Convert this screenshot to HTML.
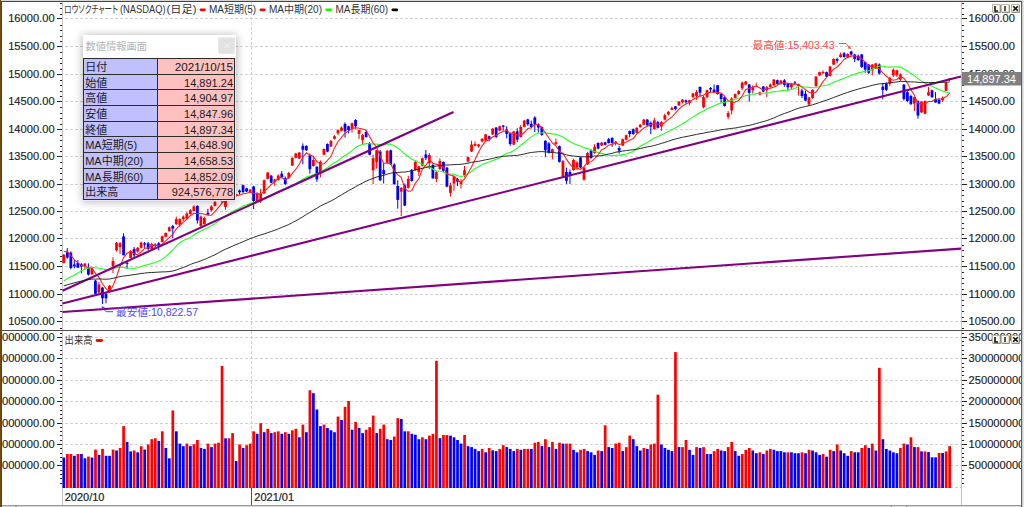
<!DOCTYPE html>
<html><head><meta charset="utf-8"><title>chart</title>
<style>html,body{margin:0;padding:0;background:#fff;overflow:hidden}#w{position:relative;width:1024px;height:507px;overflow:hidden}</style>
</head><body><div id="w">
<svg width="1024" height="507" viewBox="0 0 1024 507" style="position:absolute;left:0;top:0"><rect x="0" y="0" width="1024" height="507" fill="#ffffff"/><path d="M63,18.5H961 M63,46.5H961 M63,74.5H961 M63,101.5H961 M63,129.5H961 M63,156.5H961 M63,184.5H961 M63,211.5H961 M63,238.5H961 M63,266.5H961 M63,294.5H961 M63,321.5H961 M63,337.5H961 M63,358.5H961 M63,380.5H961 M63,401.5H961 M63,423.5H961 M63,444.5H961 M63,465.5H961 M63,487.5H961" stroke="#d0d0d0" stroke-width="1" stroke-dasharray="3,2" stroke-dashoffset="3" fill="none"/><path d="M251.5,2V329M251.5,331V488" stroke="#d0d0d0" stroke-width="1" stroke-dasharray="3,2" fill="none"/><path d="M62.5,2V505M961.5,2V505" stroke="#c0c0c0" stroke-width="1"/><line x1="63.80" y1="254.0" x2="63.80" y2="263.5" stroke="#ff0000" stroke-width="1"/><rect x="62.40" y="254.7" width="2.8" height="8.2" fill="#ff0000"/><line x1="67.31" y1="248.1" x2="67.31" y2="258.8" stroke="#0000ff" stroke-width="1"/><rect x="65.91" y="252.2" width="2.8" height="5.4" fill="#0000ff"/><line x1="70.83" y1="251.3" x2="70.83" y2="269.3" stroke="#0000ff" stroke-width="1"/><rect x="69.43" y="252.8" width="2.8" height="15.2" fill="#0000ff"/><line x1="74.34" y1="259.8" x2="74.34" y2="268.3" stroke="#0000ff" stroke-width="1"/><rect x="72.94" y="264.5" width="2.8" height="1.9" fill="#0000ff"/><line x1="77.86" y1="260.1" x2="77.86" y2="268.0" stroke="#0000ff" stroke-width="1"/><rect x="76.46" y="263.0" width="2.8" height="4.7" fill="#0000ff"/><line x1="81.38" y1="263.0" x2="81.38" y2="273.4" stroke="#0000ff" stroke-width="1"/><rect x="79.97" y="264.2" width="2.8" height="2.2" fill="#0000ff"/><line x1="84.89" y1="263.0" x2="84.89" y2="269.9" stroke="#ff0000" stroke-width="1"/><rect x="83.49" y="263.6" width="2.8" height="2.2" fill="#ff0000"/><line x1="88.41" y1="263.3" x2="88.41" y2="275.6" stroke="#0000ff" stroke-width="1"/><rect x="87.00" y="268.3" width="2.8" height="6.3" fill="#0000ff"/><line x1="91.92" y1="268.0" x2="91.92" y2="275.0" stroke="#ff0000" stroke-width="1"/><rect x="90.52" y="268.6" width="2.8" height="5.7" fill="#ff0000"/><line x1="95.44" y1="280.0" x2="95.44" y2="294.5" stroke="#0000ff" stroke-width="1"/><rect x="94.03" y="280.6" width="2.8" height="13.3" fill="#0000ff"/><line x1="98.95" y1="281.9" x2="98.95" y2="293.9" stroke="#ff0000" stroke-width="1"/><rect x="97.55" y="284.4" width="2.8" height="8.2" fill="#ff0000"/><line x1="102.47" y1="287.0" x2="102.47" y2="304.0" stroke="#0000ff" stroke-width="1"/><rect x="101.06" y="287.6" width="2.8" height="10.7" fill="#0000ff"/><line x1="105.98" y1="292.0" x2="105.98" y2="303.3" stroke="#0000ff" stroke-width="1"/><rect x="104.58" y="293.9" width="2.8" height="4.4" fill="#0000ff"/><line x1="109.50" y1="285.0" x2="109.50" y2="292.0" stroke="#ff0000" stroke-width="1"/><rect x="108.09" y="285.7" width="2.8" height="5.6" fill="#ff0000"/><line x1="113.01" y1="257.3" x2="113.01" y2="273.0" stroke="#ff0000" stroke-width="1"/><rect x="111.61" y="261.0" width="2.8" height="5.1" fill="#ff0000"/><line x1="116.53" y1="242.0" x2="116.53" y2="251.6" stroke="#ff0000" stroke-width="1"/><rect x="115.12" y="242.7" width="2.8" height="7.6" fill="#ff0000"/><line x1="120.04" y1="242.0" x2="120.04" y2="254.0" stroke="#ff0000" stroke-width="1"/><rect x="118.64" y="243.3" width="2.8" height="3.8" fill="#ff0000"/><line x1="123.56" y1="233.2" x2="123.56" y2="255.3" stroke="#0000ff" stroke-width="1"/><rect x="122.16" y="236.4" width="2.8" height="18.9" fill="#0000ff"/><line x1="127.07" y1="260.3" x2="127.07" y2="268.9" stroke="#0000ff" stroke-width="1"/><rect x="125.67" y="262.8" width="2.8" height="1.0" fill="#0000ff"/><line x1="130.58" y1="250.3" x2="130.58" y2="258.5" stroke="#ff0000" stroke-width="1"/><rect x="129.18" y="250.9" width="2.8" height="7.0" fill="#ff0000"/><line x1="134.10" y1="247.0" x2="134.10" y2="258.0" stroke="#0000ff" stroke-width="1"/><rect x="132.70" y="249.0" width="2.8" height="6.3" fill="#0000ff"/><line x1="137.62" y1="247.1" x2="137.62" y2="252.8" stroke="#ff0000" stroke-width="1"/><rect x="136.22" y="247.8" width="2.8" height="3.8" fill="#ff0000"/><line x1="141.13" y1="241.5" x2="141.13" y2="248.4" stroke="#ff0000" stroke-width="1"/><rect x="139.73" y="242.7" width="2.8" height="5.1" fill="#ff0000"/><line x1="144.64" y1="242.0" x2="144.64" y2="247.8" stroke="#0000ff" stroke-width="1"/><rect x="143.24" y="243.3" width="2.8" height="1.3" fill="#0000ff"/><line x1="148.16" y1="242.0" x2="148.16" y2="250.3" stroke="#0000ff" stroke-width="1"/><rect x="146.76" y="243.3" width="2.8" height="5.7" fill="#0000ff"/><line x1="151.68" y1="242.7" x2="151.68" y2="249.7" stroke="#ff0000" stroke-width="1"/><rect x="150.28" y="244.0" width="2.8" height="5.0" fill="#ff0000"/><line x1="155.19" y1="243.3" x2="155.19" y2="249.0" stroke="#0000ff" stroke-width="1"/><rect x="153.79" y="244.6" width="2.8" height="1.0" fill="#0000ff"/><line x1="158.70" y1="242.0" x2="158.70" y2="250.3" stroke="#0000ff" stroke-width="1"/><rect x="157.30" y="243.3" width="2.8" height="2.6" fill="#0000ff"/><line x1="162.22" y1="235.6" x2="162.22" y2="242.5" stroke="#ff0000" stroke-width="1"/><rect x="160.82" y="236.2" width="2.8" height="5.7" fill="#ff0000"/><line x1="165.74" y1="232.4" x2="165.74" y2="237.4" stroke="#ff0000" stroke-width="1"/><rect x="164.34" y="233.0" width="2.8" height="3.8" fill="#ff0000"/><line x1="169.25" y1="226.5" x2="169.25" y2="231.8" stroke="#ff0000" stroke-width="1"/><rect x="167.85" y="227.3" width="2.8" height="3.8" fill="#ff0000"/><line x1="172.76" y1="224.8" x2="172.76" y2="238.1" stroke="#0000ff" stroke-width="1"/><rect x="171.36" y="226.0" width="2.8" height="2.6" fill="#0000ff"/><line x1="176.28" y1="216.6" x2="176.28" y2="224.8" stroke="#ff0000" stroke-width="1"/><rect x="174.88" y="219.1" width="2.8" height="5.1" fill="#ff0000"/><line x1="179.80" y1="218.5" x2="179.80" y2="226.7" stroke="#ff0000" stroke-width="1"/><rect x="178.40" y="219.1" width="2.8" height="5.7" fill="#ff0000"/><line x1="183.31" y1="215.4" x2="183.31" y2="221.0" stroke="#ff0000" stroke-width="1"/><rect x="181.91" y="216.6" width="2.8" height="2.5" fill="#ff0000"/><line x1="186.82" y1="212.2" x2="186.82" y2="219.1" stroke="#ff0000" stroke-width="1"/><rect x="185.42" y="213.5" width="2.8" height="5.0" fill="#ff0000"/><line x1="190.34" y1="209.0" x2="190.34" y2="214.7" stroke="#ff0000" stroke-width="1"/><rect x="188.94" y="210.3" width="2.8" height="3.8" fill="#ff0000"/><line x1="193.86" y1="205.3" x2="193.86" y2="211.6" stroke="#ff0000" stroke-width="1"/><rect x="192.46" y="206.5" width="2.8" height="4.4" fill="#ff0000"/><line x1="197.37" y1="205.3" x2="197.37" y2="223.6" stroke="#0000ff" stroke-width="1"/><rect x="195.97" y="205.9" width="2.8" height="14.5" fill="#0000ff"/><line x1="200.88" y1="215.4" x2="200.88" y2="226.7" stroke="#ff0000" stroke-width="1"/><rect x="199.48" y="216.6" width="2.8" height="9.5" fill="#ff0000"/><line x1="204.40" y1="216.6" x2="204.40" y2="224.8" stroke="#ff0000" stroke-width="1"/><rect x="203.00" y="217.9" width="2.8" height="6.3" fill="#ff0000"/><line x1="207.92" y1="208.8" x2="207.92" y2="214.7" stroke="#0000ff" stroke-width="1"/><rect x="206.52" y="212.8" width="2.8" height="1.9" fill="#0000ff"/><line x1="211.43" y1="205.3" x2="211.43" y2="211.6" stroke="#ff0000" stroke-width="1"/><rect x="210.03" y="206.5" width="2.8" height="3.8" fill="#ff0000"/><line x1="214.94" y1="200.8" x2="214.94" y2="206.5" stroke="#ff0000" stroke-width="1"/><rect x="213.54" y="202.1" width="2.8" height="3.8" fill="#ff0000"/><line x1="218.46" y1="194.5" x2="218.46" y2="198.0" stroke="#ff0000" stroke-width="1"/><rect x="217.06" y="195.7" width="2.8" height="1.0" fill="#ff0000"/><line x1="221.98" y1="192.0" x2="221.98" y2="203.0" stroke="#0000ff" stroke-width="1"/><rect x="220.58" y="193.8" width="2.8" height="3.2" fill="#0000ff"/><line x1="225.49" y1="197.0" x2="225.49" y2="209.8" stroke="#ff0000" stroke-width="1"/><rect x="224.09" y="197.7" width="2.8" height="9.2" fill="#ff0000"/><line x1="229.00" y1="193.0" x2="229.00" y2="199.0" stroke="#ff0000" stroke-width="1"/><rect x="227.60" y="194.1" width="2.8" height="3.6" fill="#ff0000"/><line x1="232.52" y1="193.0" x2="232.52" y2="197.5" stroke="#0000ff" stroke-width="1"/><rect x="231.12" y="193.9" width="2.8" height="2.2" fill="#0000ff"/><line x1="236.04" y1="193.9" x2="236.04" y2="196.5" stroke="#ff0000" stroke-width="1"/><rect x="234.64" y="194.3" width="2.8" height="1.0" fill="#ff0000"/><line x1="239.55" y1="189.5" x2="239.55" y2="194.5" stroke="#0000ff" stroke-width="1"/><rect x="238.15" y="190.6" width="2.8" height="1.7" fill="#0000ff"/><line x1="243.06" y1="184.6" x2="243.06" y2="192.8" stroke="#0000ff" stroke-width="1"/><rect x="241.66" y="185.2" width="2.8" height="6.9" fill="#0000ff"/><line x1="246.58" y1="187.8" x2="246.58" y2="192.1" stroke="#0000ff" stroke-width="1"/><rect x="245.18" y="188.4" width="2.8" height="3.1" fill="#0000ff"/><line x1="250.10" y1="189.0" x2="250.10" y2="193.0" stroke="#ff0000" stroke-width="1"/><rect x="248.70" y="189.6" width="2.8" height="2.5" fill="#ff0000"/><line x1="253.61" y1="185.8" x2="253.61" y2="209.2" stroke="#0000ff" stroke-width="1"/><rect x="252.21" y="186.5" width="2.8" height="14.5" fill="#0000ff"/><line x1="257.12" y1="192.1" x2="257.12" y2="202.2" stroke="#ff0000" stroke-width="1"/><rect x="255.72" y="193.4" width="2.8" height="7.6" fill="#ff0000"/><line x1="260.64" y1="189.0" x2="260.64" y2="202.9" stroke="#ff0000" stroke-width="1"/><rect x="259.24" y="194.0" width="2.8" height="7.6" fill="#ff0000"/><line x1="264.16" y1="179.5" x2="264.16" y2="194.0" stroke="#ff0000" stroke-width="1"/><rect x="262.76" y="180.2" width="2.8" height="13.2" fill="#ff0000"/><line x1="267.67" y1="171.9" x2="267.67" y2="179.5" stroke="#ff0000" stroke-width="1"/><rect x="266.27" y="172.6" width="2.8" height="6.3" fill="#ff0000"/><line x1="271.19" y1="175.0" x2="271.19" y2="183.3" stroke="#0000ff" stroke-width="1"/><rect x="269.79" y="175.7" width="2.8" height="7.0" fill="#0000ff"/><line x1="274.70" y1="178.9" x2="274.70" y2="185.8" stroke="#ff0000" stroke-width="1"/><rect x="273.30" y="179.5" width="2.8" height="2.5" fill="#ff0000"/><line x1="278.22" y1="174.3" x2="278.22" y2="180.6" stroke="#ff0000" stroke-width="1"/><rect x="276.82" y="175.6" width="2.8" height="4.4" fill="#ff0000"/><line x1="281.73" y1="171.1" x2="281.73" y2="178.1" stroke="#0000ff" stroke-width="1"/><rect x="280.33" y="173.7" width="2.8" height="3.7" fill="#0000ff"/><line x1="285.25" y1="176.5" x2="285.25" y2="185.0" stroke="#0000ff" stroke-width="1"/><rect x="283.85" y="178.0" width="2.8" height="6.0" fill="#0000ff"/><line x1="288.76" y1="171.8" x2="288.76" y2="178.7" stroke="#ff0000" stroke-width="1"/><rect x="287.36" y="173.0" width="2.8" height="5.0" fill="#ff0000"/><line x1="292.27" y1="157.3" x2="292.27" y2="166.1" stroke="#ff0000" stroke-width="1"/><rect x="290.88" y="157.9" width="2.8" height="7.6" fill="#ff0000"/><line x1="295.79" y1="152.8" x2="295.79" y2="158.5" stroke="#ff0000" stroke-width="1"/><rect x="294.39" y="153.5" width="2.8" height="4.4" fill="#ff0000"/><line x1="299.31" y1="152.0" x2="299.31" y2="159.1" stroke="#ff0000" stroke-width="1"/><rect x="297.91" y="152.6" width="2.8" height="5.9" fill="#ff0000"/><line x1="302.82" y1="143.4" x2="302.82" y2="164.2" stroke="#0000ff" stroke-width="1"/><rect x="301.42" y="145.9" width="2.8" height="3.8" fill="#0000ff"/><line x1="306.33" y1="145.3" x2="306.33" y2="151.0" stroke="#0000ff" stroke-width="1"/><rect x="304.94" y="145.9" width="2.8" height="4.4" fill="#0000ff"/><line x1="309.85" y1="153.5" x2="309.85" y2="173.7" stroke="#0000ff" stroke-width="1"/><rect x="308.45" y="155.4" width="2.8" height="13.8" fill="#0000ff"/><line x1="313.37" y1="156.0" x2="313.37" y2="166.7" stroke="#ff0000" stroke-width="1"/><rect x="311.97" y="160.0" width="2.8" height="6.0" fill="#ff0000"/><line x1="316.88" y1="166.0" x2="316.88" y2="181.9" stroke="#0000ff" stroke-width="1"/><rect x="315.48" y="166.7" width="2.8" height="12.6" fill="#0000ff"/><line x1="320.40" y1="160.4" x2="320.40" y2="177.4" stroke="#ff0000" stroke-width="1"/><rect x="319.00" y="161.7" width="2.8" height="11.3" fill="#ff0000"/><line x1="323.91" y1="148.4" x2="323.91" y2="155.4" stroke="#ff0000" stroke-width="1"/><rect x="322.51" y="149.0" width="2.8" height="5.7" fill="#ff0000"/><line x1="327.43" y1="143.4" x2="327.43" y2="152.2" stroke="#0000ff" stroke-width="1"/><rect x="326.03" y="144.0" width="2.8" height="7.6" fill="#0000ff"/><line x1="330.94" y1="140.2" x2="330.94" y2="147.1" stroke="#ff0000" stroke-width="1"/><rect x="329.54" y="140.8" width="2.8" height="5.7" fill="#ff0000"/><line x1="334.46" y1="135.2" x2="334.46" y2="139.6" stroke="#ff0000" stroke-width="1"/><rect x="333.06" y="136.2" width="2.8" height="2.7" fill="#ff0000"/><line x1="337.97" y1="129.5" x2="337.97" y2="135.1" stroke="#ff0000" stroke-width="1"/><rect x="336.57" y="130.1" width="2.8" height="3.2" fill="#ff0000"/><line x1="341.49" y1="126.3" x2="341.49" y2="131.4" stroke="#ff0000" stroke-width="1"/><rect x="340.09" y="127.6" width="2.8" height="3.1" fill="#ff0000"/><line x1="345.00" y1="122.5" x2="345.00" y2="137.7" stroke="#0000ff" stroke-width="1"/><rect x="343.60" y="123.8" width="2.8" height="7.6" fill="#0000ff"/><line x1="348.52" y1="125.7" x2="348.52" y2="133.3" stroke="#0000ff" stroke-width="1"/><rect x="347.12" y="126.3" width="2.8" height="3.8" fill="#0000ff"/><line x1="352.03" y1="122.5" x2="352.03" y2="132.6" stroke="#ff0000" stroke-width="1"/><rect x="350.63" y="123.2" width="2.8" height="5.6" fill="#ff0000"/><line x1="355.55" y1="119.1" x2="355.55" y2="128.8" stroke="#0000ff" stroke-width="1"/><rect x="354.15" y="120.0" width="2.8" height="6.3" fill="#0000ff"/><line x1="359.06" y1="129.5" x2="359.06" y2="138.9" stroke="#ff0000" stroke-width="1"/><rect x="357.66" y="130.1" width="2.8" height="3.8" fill="#ff0000"/><line x1="362.58" y1="133.9" x2="362.58" y2="144.0" stroke="#ff0000" stroke-width="1"/><rect x="361.18" y="135.1" width="2.8" height="5.1" fill="#ff0000"/><line x1="366.09" y1="130.1" x2="366.09" y2="137.7" stroke="#0000ff" stroke-width="1"/><rect x="364.69" y="132.0" width="2.8" height="5.0" fill="#0000ff"/><line x1="369.61" y1="142.1" x2="369.61" y2="155.3" stroke="#0000ff" stroke-width="1"/><rect x="368.21" y="143.4" width="2.8" height="11.3" fill="#0000ff"/><line x1="373.12" y1="154.7" x2="373.12" y2="184.0" stroke="#ff0000" stroke-width="1"/><rect x="371.72" y="158.2" width="2.8" height="12.1" fill="#ff0000"/><line x1="376.64" y1="149.7" x2="376.64" y2="168.6" stroke="#ff0000" stroke-width="1"/><rect x="375.24" y="150.3" width="2.8" height="12.0" fill="#ff0000"/><line x1="380.15" y1="150.0" x2="380.15" y2="181.0" stroke="#0000ff" stroke-width="1"/><rect x="378.75" y="151.6" width="2.8" height="28.7" fill="#0000ff"/><line x1="383.67" y1="162.6" x2="383.67" y2="183.5" stroke="#0000ff" stroke-width="1"/><rect x="382.27" y="170.2" width="2.8" height="3.8" fill="#0000ff"/><line x1="387.18" y1="150.0" x2="387.18" y2="163.9" stroke="#ff0000" stroke-width="1"/><rect x="385.78" y="150.9" width="2.8" height="11.7" fill="#ff0000"/><line x1="390.70" y1="149.7" x2="390.70" y2="165.0" stroke="#0000ff" stroke-width="1"/><rect x="389.30" y="150.3" width="2.8" height="13.9" fill="#0000ff"/><line x1="394.21" y1="163.3" x2="394.21" y2="184.7" stroke="#0000ff" stroke-width="1"/><rect x="392.81" y="164.5" width="2.8" height="19.6" fill="#0000ff"/><line x1="397.73" y1="180.3" x2="397.73" y2="208.7" stroke="#0000ff" stroke-width="1"/><rect x="396.33" y="186.0" width="2.8" height="13.9" fill="#0000ff"/><line x1="401.24" y1="187.2" x2="401.24" y2="216.0" stroke="#ff0000" stroke-width="1"/><rect x="399.84" y="187.9" width="2.8" height="3.8" fill="#ff0000"/><line x1="404.75" y1="183.5" x2="404.75" y2="206.2" stroke="#0000ff" stroke-width="1"/><rect x="403.36" y="185.4" width="2.8" height="20.2" fill="#0000ff"/><line x1="408.27" y1="175.9" x2="408.27" y2="188.5" stroke="#ff0000" stroke-width="1"/><rect x="406.87" y="179.0" width="2.8" height="8.9" fill="#ff0000"/><line x1="411.79" y1="169.0" x2="411.79" y2="181.6" stroke="#0000ff" stroke-width="1"/><rect x="410.39" y="170.2" width="2.8" height="10.8" fill="#0000ff"/><line x1="415.30" y1="160.7" x2="415.30" y2="170.8" stroke="#ff0000" stroke-width="1"/><rect x="413.90" y="162.0" width="2.8" height="8.2" fill="#ff0000"/><line x1="418.81" y1="165.8" x2="418.81" y2="175.9" stroke="#ff0000" stroke-width="1"/><rect x="417.42" y="166.4" width="2.8" height="5.7" fill="#ff0000"/><line x1="422.33" y1="157.6" x2="422.33" y2="166.4" stroke="#ff0000" stroke-width="1"/><rect x="420.93" y="158.2" width="2.8" height="7.6" fill="#ff0000"/><line x1="425.85" y1="150.0" x2="425.85" y2="160.0" stroke="#0000ff" stroke-width="1"/><rect x="424.45" y="154.4" width="2.8" height="3.8" fill="#0000ff"/><line x1="429.36" y1="153.0" x2="429.36" y2="168.9" stroke="#ff0000" stroke-width="1"/><rect x="427.96" y="155.0" width="2.8" height="8.3" fill="#ff0000"/><line x1="432.88" y1="163.5" x2="432.88" y2="178.6" stroke="#0000ff" stroke-width="1"/><rect x="431.48" y="165.0" width="2.8" height="13.4" fill="#0000ff"/><line x1="436.39" y1="170.8" x2="436.39" y2="182.2" stroke="#ff0000" stroke-width="1"/><rect x="434.99" y="172.1" width="2.8" height="6.9" fill="#ff0000"/><line x1="439.91" y1="158.4" x2="439.91" y2="170.0" stroke="#ff0000" stroke-width="1"/><rect x="438.51" y="161.0" width="2.8" height="8.0" fill="#ff0000"/><line x1="443.42" y1="161.5" x2="443.42" y2="172.0" stroke="#0000ff" stroke-width="1"/><rect x="442.02" y="162.0" width="2.8" height="8.8" fill="#0000ff"/><line x1="446.94" y1="167.0" x2="446.94" y2="187.2" stroke="#0000ff" stroke-width="1"/><rect x="445.54" y="167.7" width="2.8" height="18.9" fill="#0000ff"/><line x1="450.45" y1="182.8" x2="450.45" y2="196.7" stroke="#ff0000" stroke-width="1"/><rect x="449.05" y="185.4" width="2.8" height="7.5" fill="#ff0000"/><line x1="453.97" y1="175.9" x2="453.97" y2="191.0" stroke="#ff0000" stroke-width="1"/><rect x="452.57" y="176.5" width="2.8" height="7.0" fill="#ff0000"/><line x1="457.48" y1="177.8" x2="457.48" y2="186.0" stroke="#0000ff" stroke-width="1"/><rect x="456.08" y="179.0" width="2.8" height="2.6" fill="#0000ff"/><line x1="461.00" y1="179.0" x2="461.00" y2="188.5" stroke="#ff0000" stroke-width="1"/><rect x="459.60" y="181.0" width="2.8" height="3.1" fill="#ff0000"/><line x1="464.51" y1="166.0" x2="464.51" y2="177.3" stroke="#ff0000" stroke-width="1"/><rect x="463.11" y="170.3" width="2.8" height="5.0" fill="#ff0000"/><line x1="468.03" y1="156.5" x2="468.03" y2="162.2" stroke="#ff0000" stroke-width="1"/><rect x="466.63" y="157.1" width="2.8" height="4.5" fill="#ff0000"/><line x1="471.54" y1="140.7" x2="471.54" y2="152.0" stroke="#ff0000" stroke-width="1"/><rect x="470.14" y="144.5" width="2.8" height="7.0" fill="#ff0000"/><line x1="475.06" y1="141.4" x2="475.06" y2="146.4" stroke="#ff0000" stroke-width="1"/><rect x="473.66" y="143.9" width="2.8" height="1.9" fill="#ff0000"/><line x1="478.57" y1="143.9" x2="478.57" y2="147.7" stroke="#ff0000" stroke-width="1"/><rect x="477.17" y="144.5" width="2.8" height="1.9" fill="#ff0000"/><line x1="482.09" y1="138.2" x2="482.09" y2="142.6" stroke="#ff0000" stroke-width="1"/><rect x="480.69" y="138.8" width="2.8" height="2.6" fill="#ff0000"/><line x1="485.60" y1="133.8" x2="485.60" y2="141.3" stroke="#ff0000" stroke-width="1"/><rect x="484.20" y="134.4" width="2.8" height="6.3" fill="#ff0000"/><line x1="489.12" y1="135.7" x2="489.12" y2="141.4" stroke="#0000ff" stroke-width="1"/><rect x="487.72" y="136.3" width="2.8" height="2.5" fill="#0000ff"/><line x1="492.63" y1="128.1" x2="492.63" y2="135.0" stroke="#ff0000" stroke-width="1"/><rect x="491.23" y="128.7" width="2.8" height="5.7" fill="#ff0000"/><line x1="496.15" y1="127.0" x2="496.15" y2="138.3" stroke="#0000ff" stroke-width="1"/><rect x="494.75" y="127.6" width="2.8" height="9.4" fill="#0000ff"/><line x1="499.66" y1="125.7" x2="499.66" y2="131.3" stroke="#ff0000" stroke-width="1"/><rect x="498.26" y="126.3" width="2.8" height="4.4" fill="#ff0000"/><line x1="503.18" y1="125.0" x2="503.18" y2="130.7" stroke="#0000ff" stroke-width="1"/><rect x="501.78" y="125.5" width="2.8" height="1.3" fill="#0000ff"/><line x1="506.69" y1="126.3" x2="506.69" y2="138.3" stroke="#0000ff" stroke-width="1"/><rect x="505.29" y="129.5" width="2.8" height="4.4" fill="#0000ff"/><line x1="510.21" y1="132.6" x2="510.21" y2="145.9" stroke="#0000ff" stroke-width="1"/><rect x="508.81" y="133.3" width="2.8" height="10.7" fill="#0000ff"/><line x1="513.72" y1="130.7" x2="513.72" y2="145.2" stroke="#ff0000" stroke-width="1"/><rect x="512.32" y="131.4" width="2.8" height="13.2" fill="#ff0000"/><line x1="517.24" y1="128.2" x2="517.24" y2="142.1" stroke="#0000ff" stroke-width="1"/><rect x="515.84" y="131.4" width="2.8" height="8.2" fill="#0000ff"/><line x1="520.75" y1="125.0" x2="520.75" y2="137.7" stroke="#ff0000" stroke-width="1"/><rect x="519.35" y="126.9" width="2.8" height="10.1" fill="#ff0000"/><line x1="524.26" y1="120.0" x2="524.26" y2="127.5" stroke="#ff0000" stroke-width="1"/><rect x="522.87" y="120.6" width="2.8" height="6.3" fill="#ff0000"/><line x1="527.78" y1="118.7" x2="527.78" y2="125.7" stroke="#0000ff" stroke-width="1"/><rect x="526.38" y="119.4" width="2.8" height="5.0" fill="#0000ff"/><line x1="531.29" y1="120.6" x2="531.29" y2="128.2" stroke="#0000ff" stroke-width="1"/><rect x="529.89" y="123.8" width="2.8" height="3.1" fill="#0000ff"/><line x1="534.81" y1="116.2" x2="534.81" y2="132.0" stroke="#0000ff" stroke-width="1"/><rect x="533.41" y="117.5" width="2.8" height="6.9" fill="#0000ff"/><line x1="538.33" y1="123.2" x2="538.33" y2="132.6" stroke="#0000ff" stroke-width="1"/><rect x="536.93" y="124.4" width="2.8" height="3.1" fill="#0000ff"/><line x1="541.84" y1="126.3" x2="541.84" y2="135.8" stroke="#0000ff" stroke-width="1"/><rect x="540.44" y="127.0" width="2.8" height="8.0" fill="#0000ff"/><line x1="545.36" y1="140.2" x2="545.36" y2="157.2" stroke="#0000ff" stroke-width="1"/><rect x="543.96" y="140.8" width="2.8" height="9.5" fill="#0000ff"/><line x1="548.87" y1="142.1" x2="548.87" y2="153.5" stroke="#0000ff" stroke-width="1"/><rect x="547.47" y="143.4" width="2.8" height="9.4" fill="#0000ff"/><line x1="552.38" y1="148.6" x2="552.38" y2="159.4" stroke="#ff0000" stroke-width="1"/><rect x="550.99" y="149.3" width="2.8" height="3.1" fill="#ff0000"/><line x1="555.90" y1="138.5" x2="555.90" y2="144.8" stroke="#ff0000" stroke-width="1"/><rect x="554.50" y="142.3" width="2.8" height="1.9" fill="#ff0000"/><line x1="559.41" y1="145.5" x2="559.41" y2="162.5" stroke="#0000ff" stroke-width="1"/><rect x="558.01" y="146.1" width="2.8" height="15.8" fill="#0000ff"/><line x1="562.93" y1="160.0" x2="562.93" y2="177.0" stroke="#ff0000" stroke-width="1"/><rect x="561.53" y="161.2" width="2.8" height="15.2" fill="#ff0000"/><line x1="566.45" y1="167.6" x2="566.45" y2="184.0" stroke="#0000ff" stroke-width="1"/><rect x="565.05" y="172.0" width="2.8" height="8.8" fill="#0000ff"/><line x1="569.96" y1="169.5" x2="569.96" y2="184.0" stroke="#0000ff" stroke-width="1"/><rect x="568.56" y="172.0" width="2.8" height="4.0" fill="#0000ff"/><line x1="573.48" y1="158.7" x2="573.48" y2="170.7" stroke="#ff0000" stroke-width="1"/><rect x="572.08" y="160.0" width="2.8" height="10.1" fill="#ff0000"/><line x1="576.99" y1="161.2" x2="576.99" y2="170.0" stroke="#ff0000" stroke-width="1"/><rect x="575.59" y="162.5" width="2.8" height="5.1" fill="#ff0000"/><line x1="580.50" y1="156.8" x2="580.50" y2="168.2" stroke="#0000ff" stroke-width="1"/><rect x="579.11" y="157.5" width="2.8" height="10.1" fill="#0000ff"/><line x1="584.02" y1="166.9" x2="584.02" y2="180.8" stroke="#ff0000" stroke-width="1"/><rect x="582.62" y="167.6" width="2.8" height="12.0" fill="#ff0000"/><line x1="587.53" y1="151.8" x2="587.53" y2="165.0" stroke="#ff0000" stroke-width="1"/><rect x="586.13" y="153.0" width="2.8" height="11.4" fill="#ff0000"/><line x1="591.05" y1="149.3" x2="591.05" y2="158.7" stroke="#0000ff" stroke-width="1"/><rect x="589.65" y="150.5" width="2.8" height="7.6" fill="#0000ff"/><line x1="594.56" y1="144.2" x2="594.56" y2="153.7" stroke="#ff0000" stroke-width="1"/><rect x="593.16" y="146.7" width="2.8" height="6.3" fill="#ff0000"/><line x1="598.08" y1="142.3" x2="598.08" y2="149.3" stroke="#0000ff" stroke-width="1"/><rect x="596.68" y="143.0" width="2.8" height="5.6" fill="#0000ff"/><line x1="601.60" y1="142.0" x2="601.60" y2="146.1" stroke="#ff0000" stroke-width="1"/><rect x="600.20" y="142.7" width="2.8" height="2.8" fill="#ff0000"/><line x1="605.11" y1="141.7" x2="605.11" y2="145.5" stroke="#0000ff" stroke-width="1"/><rect x="603.71" y="142.3" width="2.8" height="2.5" fill="#0000ff"/><line x1="608.62" y1="137.9" x2="608.62" y2="143.6" stroke="#0000ff" stroke-width="1"/><rect x="607.23" y="139.2" width="2.8" height="3.8" fill="#0000ff"/><line x1="612.14" y1="137.3" x2="612.14" y2="146.8" stroke="#0000ff" stroke-width="1"/><rect x="610.74" y="137.9" width="2.8" height="5.1" fill="#0000ff"/><line x1="615.65" y1="141.1" x2="615.65" y2="145.5" stroke="#ff0000" stroke-width="1"/><rect x="614.25" y="141.7" width="2.8" height="1.3" fill="#ff0000"/><line x1="619.17" y1="146.1" x2="619.17" y2="153.7" stroke="#0000ff" stroke-width="1"/><rect x="617.77" y="148.0" width="2.8" height="2.6" fill="#0000ff"/><line x1="622.68" y1="138.6" x2="622.68" y2="146.1" stroke="#ff0000" stroke-width="1"/><rect x="621.28" y="139.2" width="2.8" height="6.3" fill="#ff0000"/><line x1="626.20" y1="134.6" x2="626.20" y2="140.4" stroke="#ff0000" stroke-width="1"/><rect x="624.80" y="135.2" width="2.8" height="4.6" fill="#ff0000"/><line x1="629.71" y1="130.4" x2="629.71" y2="137.3" stroke="#0000ff" stroke-width="1"/><rect x="628.31" y="131.0" width="2.8" height="3.1" fill="#0000ff"/><line x1="633.23" y1="128.5" x2="633.23" y2="134.8" stroke="#0000ff" stroke-width="1"/><rect x="631.83" y="129.3" width="2.8" height="4.8" fill="#0000ff"/><line x1="636.75" y1="127.2" x2="636.75" y2="133.5" stroke="#ff0000" stroke-width="1"/><rect x="635.35" y="127.8" width="2.8" height="5.1" fill="#ff0000"/><line x1="640.26" y1="124.0" x2="640.26" y2="127.6" stroke="#ff0000" stroke-width="1"/><rect x="638.86" y="124.7" width="2.8" height="2.5" fill="#ff0000"/><line x1="643.77" y1="119.0" x2="643.77" y2="125.3" stroke="#ff0000" stroke-width="1"/><rect x="642.38" y="119.6" width="2.8" height="5.1" fill="#ff0000"/><line x1="647.29" y1="119.0" x2="647.29" y2="126.0" stroke="#0000ff" stroke-width="1"/><rect x="645.89" y="119.6" width="2.8" height="5.7" fill="#0000ff"/><line x1="650.80" y1="121.5" x2="650.80" y2="134.1" stroke="#0000ff" stroke-width="1"/><rect x="649.40" y="122.8" width="2.8" height="3.8" fill="#0000ff"/><line x1="654.32" y1="117.7" x2="654.32" y2="129.7" stroke="#ff0000" stroke-width="1"/><rect x="652.92" y="120.3" width="2.8" height="8.8" fill="#ff0000"/><line x1="657.83" y1="120.9" x2="657.83" y2="128.5" stroke="#0000ff" stroke-width="1"/><rect x="656.43" y="122.1" width="2.8" height="5.7" fill="#0000ff"/><line x1="661.35" y1="120.9" x2="661.35" y2="131.0" stroke="#ff0000" stroke-width="1"/><rect x="659.95" y="122.1" width="2.8" height="4.5" fill="#ff0000"/><line x1="664.87" y1="113.6" x2="664.87" y2="120.5" stroke="#ff0000" stroke-width="1"/><rect x="663.47" y="115.2" width="2.8" height="4.4" fill="#ff0000"/><line x1="668.38" y1="111.0" x2="668.38" y2="115.5" stroke="#ff0000" stroke-width="1"/><rect x="666.98" y="111.8" width="2.8" height="2.7" fill="#ff0000"/><line x1="671.89" y1="106.6" x2="671.89" y2="110.4" stroke="#ff0000" stroke-width="1"/><rect x="670.50" y="107.9" width="2.8" height="1.9" fill="#ff0000"/><line x1="675.41" y1="106.0" x2="675.41" y2="110.4" stroke="#0000ff" stroke-width="1"/><rect x="674.01" y="106.4" width="2.8" height="2.7" fill="#0000ff"/><line x1="678.92" y1="101.0" x2="678.92" y2="106.0" stroke="#ff0000" stroke-width="1"/><rect x="677.52" y="101.6" width="2.8" height="3.8" fill="#ff0000"/><line x1="682.44" y1="99.0" x2="682.44" y2="103.5" stroke="#ff0000" stroke-width="1"/><rect x="681.04" y="99.7" width="2.8" height="2.5" fill="#ff0000"/><line x1="685.95" y1="99.7" x2="685.95" y2="103.5" stroke="#0000ff" stroke-width="1"/><rect x="684.55" y="100.3" width="2.8" height="1.9" fill="#0000ff"/><line x1="689.47" y1="99.7" x2="689.47" y2="105.4" stroke="#ff0000" stroke-width="1"/><rect x="688.07" y="100.3" width="2.8" height="2.5" fill="#ff0000"/><line x1="692.99" y1="92.7" x2="692.99" y2="98.4" stroke="#ff0000" stroke-width="1"/><rect x="691.59" y="93.4" width="2.8" height="3.7" fill="#ff0000"/><line x1="696.50" y1="90.2" x2="696.50" y2="99.7" stroke="#ff0000" stroke-width="1"/><rect x="695.10" y="92.0" width="2.8" height="4.0" fill="#ff0000"/><line x1="700.01" y1="86.4" x2="700.01" y2="96.5" stroke="#0000ff" stroke-width="1"/><rect x="698.62" y="87.0" width="2.8" height="5.7" fill="#0000ff"/><line x1="703.53" y1="95.9" x2="703.53" y2="108.5" stroke="#ff0000" stroke-width="1"/><rect x="702.13" y="97.1" width="2.8" height="10.1" fill="#ff0000"/><line x1="707.04" y1="89.6" x2="707.04" y2="98.4" stroke="#ff0000" stroke-width="1"/><rect x="705.64" y="90.2" width="2.8" height="6.9" fill="#ff0000"/><line x1="710.56" y1="87.0" x2="710.56" y2="92.1" stroke="#0000ff" stroke-width="1"/><rect x="709.16" y="88.0" width="2.8" height="1.5" fill="#0000ff"/><line x1="714.07" y1="84.5" x2="714.07" y2="92.7" stroke="#0000ff" stroke-width="1"/><rect x="712.67" y="89.6" width="2.8" height="2.5" fill="#0000ff"/><line x1="717.59" y1="84.9" x2="717.59" y2="94.6" stroke="#0000ff" stroke-width="1"/><rect x="716.19" y="85.2" width="2.8" height="8.8" fill="#0000ff"/><line x1="721.11" y1="93.4" x2="721.11" y2="102.8" stroke="#0000ff" stroke-width="1"/><rect x="719.71" y="94.0" width="2.8" height="5.0" fill="#0000ff"/><line x1="724.62" y1="96.5" x2="724.62" y2="106.6" stroke="#0000ff" stroke-width="1"/><rect x="723.22" y="97.1" width="2.8" height="8.9" fill="#0000ff"/><line x1="728.13" y1="111.1" x2="728.13" y2="119.3" stroke="#ff0000" stroke-width="1"/><rect x="726.74" y="113.0" width="2.8" height="3.8" fill="#ff0000"/><line x1="731.65" y1="97.2" x2="731.65" y2="114.3" stroke="#ff0000" stroke-width="1"/><rect x="730.25" y="98.5" width="2.8" height="12.0" fill="#ff0000"/><line x1="735.16" y1="93.5" x2="735.16" y2="98.5" stroke="#ff0000" stroke-width="1"/><rect x="733.76" y="94.1" width="2.8" height="3.8" fill="#ff0000"/><line x1="738.68" y1="90.3" x2="738.68" y2="94.7" stroke="#ff0000" stroke-width="1"/><rect x="737.28" y="90.9" width="2.8" height="3.2" fill="#ff0000"/><line x1="742.19" y1="81.5" x2="742.19" y2="90.3" stroke="#ff0000" stroke-width="1"/><rect x="740.79" y="82.7" width="2.8" height="5.7" fill="#ff0000"/><line x1="745.71" y1="80.9" x2="745.71" y2="85.2" stroke="#ff0000" stroke-width="1"/><rect x="744.31" y="81.5" width="2.8" height="3.1" fill="#ff0000"/><line x1="749.23" y1="84.0" x2="749.23" y2="101.7" stroke="#0000ff" stroke-width="1"/><rect x="747.83" y="84.6" width="2.8" height="8.2" fill="#0000ff"/><line x1="752.74" y1="85.3" x2="752.74" y2="93.5" stroke="#ff0000" stroke-width="1"/><rect x="751.34" y="87.1" width="2.8" height="3.2" fill="#ff0000"/><line x1="756.25" y1="82.7" x2="756.25" y2="87.1" stroke="#ff0000" stroke-width="1"/><rect x="754.86" y="86.0" width="2.8" height="1.0" fill="#ff0000"/><line x1="759.77" y1="91.6" x2="759.77" y2="95.3" stroke="#ff0000" stroke-width="1"/><rect x="758.37" y="92.2" width="2.8" height="2.5" fill="#ff0000"/><line x1="763.28" y1="85.9" x2="763.28" y2="92.2" stroke="#0000ff" stroke-width="1"/><rect x="761.88" y="86.5" width="2.8" height="5.1" fill="#0000ff"/><line x1="766.80" y1="85.9" x2="766.80" y2="97.2" stroke="#ff0000" stroke-width="1"/><rect x="765.40" y="87.1" width="2.8" height="3.2" fill="#ff0000"/><line x1="770.31" y1="83.4" x2="770.31" y2="87.8" stroke="#ff0000" stroke-width="1"/><rect x="768.91" y="84.6" width="2.8" height="2.5" fill="#ff0000"/><line x1="773.83" y1="79.0" x2="773.83" y2="85.9" stroke="#ff0000" stroke-width="1"/><rect x="772.43" y="79.6" width="2.8" height="5.7" fill="#ff0000"/><line x1="777.35" y1="79.6" x2="777.35" y2="84.6" stroke="#0000ff" stroke-width="1"/><rect x="775.95" y="80.2" width="2.8" height="3.8" fill="#0000ff"/><line x1="780.86" y1="80.0" x2="780.86" y2="84.6" stroke="#ff0000" stroke-width="1"/><rect x="779.46" y="80.6" width="2.8" height="3.4" fill="#ff0000"/><line x1="784.38" y1="79.1" x2="784.38" y2="86.7" stroke="#0000ff" stroke-width="1"/><rect x="782.98" y="80.4" width="2.8" height="4.4" fill="#0000ff"/><line x1="787.89" y1="82.9" x2="787.89" y2="90.5" stroke="#0000ff" stroke-width="1"/><rect x="786.49" y="83.6" width="2.8" height="3.7" fill="#0000ff"/><line x1="791.40" y1="82.9" x2="791.40" y2="89.2" stroke="#ff0000" stroke-width="1"/><rect x="790.00" y="83.6" width="2.8" height="3.7" fill="#ff0000"/><line x1="794.92" y1="81.0" x2="794.92" y2="84.8" stroke="#0000ff" stroke-width="1"/><rect x="793.52" y="82.5" width="2.8" height="1.0" fill="#0000ff"/><line x1="798.43" y1="83.6" x2="798.43" y2="95.6" stroke="#ff0000" stroke-width="1"/><rect x="797.03" y="84.2" width="2.8" height="1.8" fill="#ff0000"/><line x1="801.95" y1="88.6" x2="801.95" y2="98.1" stroke="#0000ff" stroke-width="1"/><rect x="800.55" y="90.5" width="2.8" height="5.5" fill="#0000ff"/><line x1="805.47" y1="90.5" x2="805.47" y2="101.2" stroke="#0000ff" stroke-width="1"/><rect x="804.07" y="93.7" width="2.8" height="6.9" fill="#0000ff"/><line x1="808.98" y1="96.8" x2="808.98" y2="106.0" stroke="#ff0000" stroke-width="1"/><rect x="807.58" y="97.4" width="2.8" height="7.1" fill="#ff0000"/><line x1="812.50" y1="89.2" x2="812.50" y2="98.7" stroke="#ff0000" stroke-width="1"/><rect x="811.10" y="89.9" width="2.8" height="8.2" fill="#ff0000"/><line x1="816.01" y1="76.0" x2="816.01" y2="86.7" stroke="#ff0000" stroke-width="1"/><rect x="814.61" y="76.6" width="2.8" height="9.5" fill="#ff0000"/><line x1="819.52" y1="71.6" x2="819.52" y2="76.0" stroke="#ff0000" stroke-width="1"/><rect x="818.12" y="72.2" width="2.8" height="3.2" fill="#ff0000"/><line x1="823.04" y1="70.3" x2="823.04" y2="74.1" stroke="#ff0000" stroke-width="1"/><rect x="821.64" y="72.0" width="2.8" height="1.0" fill="#ff0000"/><line x1="826.55" y1="71.6" x2="826.55" y2="77.2" stroke="#0000ff" stroke-width="1"/><rect x="825.15" y="72.2" width="2.8" height="4.4" fill="#0000ff"/><line x1="830.07" y1="65.9" x2="830.07" y2="76.6" stroke="#ff0000" stroke-width="1"/><rect x="828.67" y="66.5" width="2.8" height="9.5" fill="#ff0000"/><line x1="833.59" y1="58.3" x2="833.59" y2="65.2" stroke="#ff0000" stroke-width="1"/><rect x="832.19" y="58.9" width="2.8" height="5.7" fill="#ff0000"/><line x1="837.10" y1="57.7" x2="837.10" y2="63.4" stroke="#0000ff" stroke-width="1"/><rect x="835.70" y="59.0" width="2.8" height="1.8" fill="#0000ff"/><line x1="840.62" y1="52.6" x2="840.62" y2="57.7" stroke="#ff0000" stroke-width="1"/><rect x="839.22" y="54.5" width="2.8" height="2.5" fill="#ff0000"/><line x1="844.13" y1="52.0" x2="844.13" y2="57.7" stroke="#0000ff" stroke-width="1"/><rect x="842.73" y="53.3" width="2.8" height="3.7" fill="#0000ff"/><line x1="847.64" y1="53.3" x2="847.64" y2="58.3" stroke="#ff0000" stroke-width="1"/><rect x="846.25" y="53.9" width="2.8" height="3.8" fill="#ff0000"/><line x1="851.16" y1="50.7" x2="851.16" y2="55.8" stroke="#0000ff" stroke-width="1"/><rect x="849.76" y="51.5" width="2.8" height="3.0" fill="#0000ff"/><line x1="854.67" y1="53.9" x2="854.67" y2="62.1" stroke="#0000ff" stroke-width="1"/><rect x="853.27" y="54.5" width="2.8" height="4.4" fill="#0000ff"/><line x1="858.19" y1="54.5" x2="858.19" y2="60.8" stroke="#0000ff" stroke-width="1"/><rect x="856.79" y="55.8" width="2.8" height="4.4" fill="#0000ff"/><line x1="861.70" y1="53.9" x2="861.70" y2="67.8" stroke="#0000ff" stroke-width="1"/><rect x="860.30" y="54.5" width="2.8" height="12.6" fill="#0000ff"/><line x1="865.22" y1="61.5" x2="865.22" y2="72.8" stroke="#0000ff" stroke-width="1"/><rect x="863.82" y="62.1" width="2.8" height="7.6" fill="#0000ff"/><line x1="868.74" y1="64.0" x2="868.74" y2="74.1" stroke="#0000ff" stroke-width="1"/><rect x="867.34" y="64.6" width="2.8" height="8.2" fill="#0000ff"/><line x1="872.25" y1="64.0" x2="872.25" y2="75.4" stroke="#ff0000" stroke-width="1"/><rect x="870.85" y="64.6" width="2.8" height="5.7" fill="#ff0000"/><line x1="875.76" y1="62.7" x2="875.76" y2="69.0" stroke="#ff0000" stroke-width="1"/><rect x="874.37" y="63.4" width="2.8" height="5.0" fill="#ff0000"/><line x1="879.28" y1="63.4" x2="879.28" y2="74.7" stroke="#0000ff" stroke-width="1"/><rect x="877.88" y="64.6" width="2.8" height="8.9" fill="#0000ff"/><line x1="882.79" y1="82.9" x2="882.79" y2="99.3" stroke="#0000ff" stroke-width="1"/><rect x="881.39" y="86.7" width="2.8" height="3.2" fill="#0000ff"/><line x1="886.31" y1="82.3" x2="886.31" y2="91.1" stroke="#0000ff" stroke-width="1"/><rect x="884.91" y="83.6" width="2.8" height="6.3" fill="#0000ff"/><line x1="889.82" y1="76.6" x2="889.82" y2="86.1" stroke="#ff0000" stroke-width="1"/><rect x="888.42" y="77.9" width="2.8" height="5.7" fill="#ff0000"/><line x1="893.34" y1="68.4" x2="893.34" y2="77.0" stroke="#ff0000" stroke-width="1"/><rect x="891.94" y="69.7" width="2.8" height="5.7" fill="#ff0000"/><line x1="896.86" y1="69.7" x2="896.86" y2="77.0" stroke="#ff0000" stroke-width="1"/><rect x="895.46" y="70.3" width="2.8" height="5.1" fill="#ff0000"/><line x1="900.37" y1="73.3" x2="900.37" y2="80.8" stroke="#ff0000" stroke-width="1"/><rect x="898.97" y="74.5" width="2.8" height="5.1" fill="#ff0000"/><line x1="903.88" y1="84.0" x2="903.88" y2="100.4" stroke="#0000ff" stroke-width="1"/><rect x="902.49" y="84.6" width="2.8" height="14.5" fill="#0000ff"/><line x1="907.40" y1="90.9" x2="907.40" y2="102.3" stroke="#0000ff" stroke-width="1"/><rect x="906.00" y="92.2" width="2.8" height="8.8" fill="#0000ff"/><line x1="910.91" y1="94.7" x2="910.91" y2="104.8" stroke="#0000ff" stroke-width="1"/><rect x="909.51" y="96.0" width="2.8" height="8.2" fill="#0000ff"/><line x1="914.43" y1="96.6" x2="914.43" y2="111.1" stroke="#ff0000" stroke-width="1"/><rect x="913.03" y="97.2" width="2.8" height="6.4" fill="#ff0000"/><line x1="917.94" y1="100.4" x2="917.94" y2="118.7" stroke="#0000ff" stroke-width="1"/><rect x="916.54" y="101.0" width="2.8" height="14.6" fill="#0000ff"/><line x1="921.46" y1="101.0" x2="921.46" y2="113.0" stroke="#ff0000" stroke-width="1"/><rect x="920.06" y="101.7" width="2.8" height="10.7" fill="#ff0000"/><line x1="924.98" y1="100.4" x2="924.98" y2="114.3" stroke="#ff0000" stroke-width="1"/><rect x="923.58" y="101.0" width="2.8" height="12.7" fill="#ff0000"/><line x1="928.49" y1="87.1" x2="928.49" y2="96.0" stroke="#ff0000" stroke-width="1"/><rect x="927.09" y="92.2" width="2.8" height="3.2" fill="#ff0000"/><line x1="932.00" y1="89.7" x2="932.00" y2="97.9" stroke="#0000ff" stroke-width="1"/><rect x="930.61" y="90.3" width="2.8" height="6.9" fill="#0000ff"/><line x1="935.52" y1="92.0" x2="935.52" y2="102.9" stroke="#0000ff" stroke-width="1"/><rect x="934.12" y="99.3" width="2.8" height="3.2" fill="#0000ff"/><line x1="939.03" y1="97.9" x2="939.03" y2="104.2" stroke="#0000ff" stroke-width="1"/><rect x="937.63" y="99.8" width="2.8" height="3.8" fill="#0000ff"/><line x1="942.55" y1="96.5" x2="942.55" y2="102.0" stroke="#ff0000" stroke-width="1"/><rect x="941.15" y="97.8" width="2.8" height="2.5" fill="#ff0000"/><line x1="946.06" y1="81.5" x2="946.06" y2="91.0" stroke="#ff0000" stroke-width="1"/><rect x="944.66" y="82.9" width="2.8" height="7.9" fill="#ff0000"/><line x1="949.58" y1="78.0" x2="949.58" y2="81.4" stroke="#ff0000" stroke-width="1"/><rect x="948.18" y="78.6" width="2.8" height="1.0" fill="#ff0000"/><polyline points="63.8,281.0 67.3,278.6 70.8,276.7 74.3,275.3 77.9,273.0 81.4,270.7 84.9,269.0 88.4,268.3 91.9,267.3 95.4,267.8 98.9,268.2 102.5,268.7 106.0,269.8 109.5,269.8 113.0,269.2 116.5,267.8 120.0,266.9 123.6,267.4 127.1,268.3 130.6,268.2 134.1,268.3 137.6,267.8 141.1,266.5 144.6,265.4 148.2,264.5 151.7,263.4 155.2,262.5 158.7,261.0 162.2,259.4 165.7,256.4 169.2,253.5 172.8,250.0 176.3,246.1 179.8,242.7 183.3,240.5 186.8,239.1 190.3,237.4 193.9,235.0 197.4,232.8 200.9,231.1 204.4,229.2 207.9,227.6 211.4,225.8 214.9,223.6 218.5,221.0 222.0,218.6 225.5,216.2 229.0,213.6 232.5,211.6 236.0,209.7 239.6,208.0 243.1,206.1 246.6,204.8 250.1,203.3 253.6,202.5 257.1,201.5 260.6,200.7 264.2,199.4 267.7,197.0 271.2,195.3 274.7,193.4 278.2,191.4 281.7,189.9 285.2,189.0 288.8,187.9 292.3,185.9 295.8,183.7 299.3,181.7 302.8,179.3 306.3,177.1 309.9,176.0 313.4,174.4 316.9,173.8 320.4,172.4 323.9,169.8 327.4,167.7 330.9,165.0 334.5,162.8 338.0,160.7 341.5,157.9 345.0,155.5 348.5,153.3 352.0,150.6 355.5,147.7 359.1,145.5 362.6,144.4 366.1,143.6 369.6,143.7 373.1,144.1 376.6,144.1 380.2,144.7 383.7,145.3 387.2,143.9 390.7,144.1 394.2,145.8 397.7,148.2 401.2,150.6 404.8,154.1 408.3,156.5 411.8,159.2 415.3,160.7 418.8,162.5 422.3,164.3 425.8,165.9 429.4,167.1 432.9,169.3 436.4,171.0 439.9,171.3 443.4,172.0 446.9,173.8 450.5,174.0 454.0,174.2 457.5,175.7 461.0,176.5 464.5,175.8 468.0,173.7 471.5,171.5 475.1,168.4 478.6,166.7 482.1,164.6 485.6,163.2 489.1,161.9 492.6,160.4 496.1,159.3 499.7,157.9 503.2,155.3 506.7,153.4 510.2,152.5 513.7,150.6 517.2,148.2 520.8,145.3 524.3,142.5 527.8,139.6 531.3,136.9 534.8,134.6 538.3,133.2 541.8,132.7 545.4,133.0 548.9,133.4 552.4,133.9 555.9,134.3 559.4,135.5 562.9,137.1 566.4,139.3 570.0,141.8 573.5,143.5 577.0,144.9 580.5,146.1 584.0,147.9 587.5,148.6 591.0,150.1 594.6,151.4 598.1,152.6 601.6,153.4 605.1,154.4 608.6,155.2 612.1,155.6 615.7,155.2 619.2,155.1 622.7,154.6 626.2,154.2 629.7,152.8 633.2,151.5 636.7,148.8 640.3,146.2 643.8,144.2 647.3,142.4 650.8,140.3 654.3,138.0 657.8,136.7 661.4,134.9 664.9,133.3 668.4,131.5 671.9,129.7 675.4,128.0 678.9,125.9 682.4,123.7 686.0,121.7 689.5,119.2 693.0,116.9 696.5,114.8 700.0,112.7 703.5,110.9 707.0,109.0 710.6,107.2 714.1,105.8 717.6,104.3 721.1,102.9 724.6,102.2 728.1,101.4 731.6,100.3 735.2,99.2 738.7,98.2 742.2,96.9 745.7,95.5 749.2,95.1 752.7,94.5 756.3,93.6 759.8,93.2 763.3,93.2 766.8,92.9 770.3,92.5 773.8,91.6 777.3,91.3 780.9,90.9 784.4,90.5 787.9,90.2 791.4,89.4 794.9,88.3 798.4,86.8 801.9,86.7 805.5,87.0 809.0,87.4 812.5,87.7 816.0,87.5 819.5,86.4 823.0,85.7 826.6,85.2 830.1,83.9 833.6,82.3 837.1,81.0 840.6,79.5 844.1,78.3 847.6,76.8 851.2,75.5 854.7,74.2 858.2,72.9 861.7,72.1 865.2,71.4 868.7,70.8 872.2,69.2 875.8,67.4 879.3,66.2 882.8,66.2 886.3,66.8 889.8,67.1 893.3,67.0 896.9,66.7 900.4,67.1 903.9,69.1 907.4,71.1 910.9,73.6 914.4,75.6 917.9,78.7 921.5,81.1 925.0,83.2 928.5,84.8 932.0,86.3 935.5,87.9 939.0,89.5 942.5,91.1 946.1,92.1 949.6,92.3" fill="none" stroke="#22ff22" stroke-width="1.1" stroke-linejoin="round"/><polyline points="63.8,251.8 67.3,251.0 70.8,255.5 74.3,259.6 77.9,262.9 81.4,265.2 84.9,266.4 88.4,267.7 91.9,268.2 95.4,273.4 98.9,277.0 102.5,284.0 106.0,288.7 109.5,292.1 113.0,285.5 116.5,277.2 120.0,266.2 123.6,257.6 127.1,253.2 130.6,251.1 134.1,253.7 137.6,254.6 141.1,252.0 144.6,248.3 148.2,247.9 151.7,245.6 155.2,245.1 158.7,245.8 162.2,244.1 165.7,240.9 169.2,237.6 172.8,234.2 176.3,228.8 179.8,225.4 183.3,222.1 186.8,219.4 190.3,215.7 193.9,213.2 197.4,213.5 200.9,213.5 204.4,214.3 207.9,215.2 211.4,215.2 214.9,211.6 218.5,207.4 222.0,203.2 225.5,199.8 229.0,197.3 232.5,196.1 236.0,195.8 239.6,194.9 243.1,193.8 246.6,193.3 250.1,192.0 253.6,193.3 257.1,193.5 260.6,193.9 264.2,191.6 267.7,188.2 271.2,184.6 274.7,181.8 278.2,178.1 281.7,177.6 285.2,179.8 288.8,177.9 292.3,173.6 295.8,169.2 299.3,164.2 302.8,157.3 306.3,152.8 309.9,155.1 313.4,156.4 316.9,161.7 320.4,164.1 323.9,163.8 327.4,160.3 330.9,156.5 334.5,147.9 338.0,141.5 341.5,137.3 345.0,133.2 348.5,131.1 352.0,128.5 355.5,127.7 359.1,128.2 362.6,129.0 366.1,130.3 369.6,136.6 373.1,143.0 376.6,147.1 380.2,156.1 383.7,163.5 387.2,162.7 390.7,163.9 394.2,170.7 397.7,174.6 401.2,177.4 404.8,188.3 408.3,191.3 411.8,190.7 415.3,183.1 418.8,178.8 422.3,169.3 425.8,165.2 429.4,160.0 432.9,163.2 436.4,164.4 439.9,164.9 443.4,167.5 446.9,173.8 450.5,175.2 454.0,176.1 457.5,180.2 461.0,182.2 464.5,179.0 468.0,173.3 471.5,166.9 475.1,159.4 478.6,152.1 482.1,145.8 485.6,141.2 489.1,140.1 492.6,137.0 496.1,135.5 499.7,133.0 503.2,131.5 506.7,130.5 510.2,133.6 513.7,132.5 517.2,135.1 520.8,135.2 524.3,132.5 527.8,128.6 531.3,127.7 534.8,124.6 538.3,124.8 541.8,127.6 545.4,132.8 548.9,138.0 552.4,143.0 555.9,145.9 559.4,151.3 562.9,153.5 566.4,159.1 570.0,164.4 573.5,168.0 577.0,168.1 580.5,169.4 584.0,166.7 587.5,162.1 591.0,161.8 594.6,158.6 598.1,154.8 601.6,149.8 605.1,148.2 608.6,145.2 612.1,144.4 615.7,143.0 619.2,144.6 622.7,143.5 626.2,141.9 629.7,140.2 633.2,138.6 636.7,134.1 640.3,131.2 643.8,128.1 647.3,126.3 650.8,124.8 654.3,123.3 657.8,123.9 661.4,124.4 664.9,122.4 668.4,119.4 671.9,117.0 675.4,113.2 678.9,109.1 682.4,106.0 686.0,104.1 689.5,102.6 693.0,99.4 696.5,97.5 700.0,96.1 703.5,95.1 707.0,93.1 710.6,92.3 714.1,92.3 717.6,92.6 721.1,93.0 724.6,96.1 728.1,100.8 731.6,102.1 735.2,102.1 738.7,100.5 742.2,95.8 745.7,89.5 749.2,88.4 752.7,87.0 756.3,86.0 759.8,87.9 763.3,89.9 766.8,88.8 770.3,88.3 773.8,87.0 777.3,85.4 780.9,83.2 784.4,82.7 787.9,83.3 791.4,84.1 794.9,84.0 798.4,84.7 801.9,86.9 805.5,89.6 809.0,92.3 812.5,93.6 816.0,92.1 819.5,87.3 823.0,81.6 826.6,77.5 830.1,72.8 833.6,69.2 837.1,67.0 840.6,63.5 844.1,59.5 847.6,57.0 851.2,56.1 854.7,55.8 858.2,56.9 861.7,58.9 865.2,62.1 868.7,65.7 872.2,66.9 875.8,67.5 879.3,68.8 882.8,72.8 886.3,76.3 889.8,78.9 893.3,80.2 896.9,79.5 900.4,76.5 903.9,78.3 907.4,82.9 910.9,89.8 914.4,95.2 917.9,103.4 921.5,103.9 925.0,103.9 928.5,101.5 932.0,101.5 935.5,98.9 939.0,99.3 942.5,98.7 946.1,96.8 949.6,93.1" fill="none" stroke="#ff2020" stroke-width="1.1" stroke-linejoin="round"/><g stroke="#800080" stroke-width="2.1" fill="none"><line x1="62.5" y1="290.8" x2="453.5" y2="112"/><line x1="62.5" y1="303.5" x2="961" y2="76.6"/><line x1="62.5" y1="312" x2="961" y2="248.6"/></g><polyline points="63.8,285.9 67.3,284.8 70.8,283.8 74.3,282.9 77.9,281.9 81.4,281.1 84.9,280.2 88.4,279.6 91.9,279.1 95.4,279.1 98.9,278.9 102.5,279.1 106.0,279.2 109.5,279.0 113.0,278.3 116.5,277.4 120.0,276.6 123.6,276.0 127.1,275.6 130.6,275.1 134.1,274.6 137.6,274.1 141.1,273.5 144.6,273.1 148.2,272.7 151.7,272.5 155.2,272.3 158.7,272.1 162.2,271.9 165.7,271.8 169.2,271.6 172.8,271.0 176.3,270.0 179.8,268.6 183.3,267.5 186.8,266.1 190.3,264.5 193.9,263.1 197.4,262.1 200.9,260.8 204.4,259.5 207.9,258.0 211.4,256.3 214.9,254.8 218.5,252.8 222.0,250.9 225.5,249.2 229.0,247.7 232.5,246.1 236.0,244.6 239.6,243.2 243.1,241.6 246.6,240.2 250.1,238.6 253.6,237.4 257.1,236.1 260.6,235.0 264.2,233.9 267.7,232.7 271.2,231.5 274.7,230.3 278.2,228.9 281.7,227.4 285.2,226.0 288.8,224.5 292.3,222.6 295.8,220.8 299.3,218.8 302.8,216.8 306.3,214.4 309.9,212.5 313.4,210.2 316.9,208.2 320.4,206.1 323.9,204.3 327.4,202.7 330.9,201.0 334.5,199.1 338.0,196.8 341.5,194.8 345.0,192.7 348.5,190.7 352.0,188.8 355.5,186.8 359.1,184.8 362.6,183.0 366.1,181.2 369.6,179.7 373.1,178.4 376.6,177.0 380.2,176.2 383.7,175.3 387.2,174.2 390.7,173.2 394.2,172.7 397.7,172.5 401.2,172.1 404.8,172.1 408.3,171.4 411.8,170.8 415.3,169.9 418.8,169.1 422.3,168.3 425.8,167.5 429.4,166.8 432.9,166.5 436.4,166.1 439.9,165.6 443.4,165.1 446.9,165.0 450.5,164.9 454.0,164.6 457.5,164.5 461.0,164.3 464.5,163.8 468.0,163.2 471.5,162.4 475.1,161.8 478.6,161.3 482.1,160.6 485.6,159.8 489.1,159.2 492.6,158.4 496.1,157.6 499.7,156.8 503.2,156.3 506.7,156.0 510.2,155.8 513.7,155.5 517.2,155.4 520.8,154.7 524.3,154.0 527.8,153.1 531.3,152.5 534.8,152.1 538.3,151.7 541.8,151.6 545.4,151.8 548.9,152.2 552.4,152.6 555.9,152.8 559.4,153.3 562.9,153.9 566.4,154.8 570.0,155.6 573.5,156.0 577.0,156.4 580.5,156.7 584.0,156.8 587.5,156.9 591.0,156.5 594.6,156.0 598.1,156.0 601.6,155.6 605.1,155.0 608.6,154.0 612.1,153.3 615.7,152.2 619.2,151.7 622.7,151.0 626.2,150.6 629.7,150.1 633.2,149.7 636.7,149.2 640.3,148.6 643.8,147.7 647.3,146.9 650.8,146.3 654.3,145.5 657.8,144.5 661.4,143.4 664.9,142.4 668.4,141.2 671.9,140.0 675.4,139.0 678.9,138.1 682.4,137.3 686.0,136.6 689.5,135.9 693.0,135.2 696.5,134.4 700.0,133.7 703.5,133.2 707.0,132.4 710.6,131.8 714.1,131.2 717.6,130.5 721.1,129.8 724.6,129.3 728.1,128.9 731.6,128.4 735.2,128.0 738.7,127.4 742.2,126.7 745.7,126.0 749.2,125.4 752.7,124.6 756.3,123.5 759.8,122.5 763.3,121.6 766.8,120.6 770.3,119.3 773.8,118.0 777.3,116.4 780.9,114.8 784.4,113.5 787.9,112.3 791.4,110.9 794.9,109.5 798.4,108.3 801.9,107.3 805.5,106.5 809.0,105.7 812.5,104.8 816.0,103.7 819.5,102.5 823.0,101.3 826.6,100.2 830.1,98.8 833.6,97.5 837.1,96.2 840.6,94.9 844.1,93.6 847.6,92.4 851.2,91.2 854.7,90.2 858.2,89.1 861.7,88.1 865.2,87.3 868.7,86.4 872.2,85.4 875.8,84.5 879.3,83.9 882.8,83.6 886.3,83.3 889.8,82.9 893.3,82.4 896.9,81.9 900.4,81.4 903.9,81.5 907.4,81.7 910.9,81.9 914.4,81.9 917.9,82.3 921.5,82.5 925.0,82.6 928.5,82.6 932.0,82.6 935.5,82.5 939.0,82.4 942.5,82.4 946.1,82.2 949.6,82.0" fill="none" stroke="#202020" stroke-width="0.95" stroke-linejoin="round"/><rect x="62.50" y="457.5" width="2.7" height="30.5" fill="#0000ff"/><rect x="66.02" y="454" width="2.7" height="34.0" fill="#ff0000"/><rect x="69.53" y="454" width="2.7" height="34.0" fill="#ff0000"/><rect x="73.05" y="455.8" width="2.7" height="32.2" fill="#0000ff"/><rect x="76.56" y="454" width="2.7" height="34.0" fill="#ff0000"/><rect x="80.08" y="454" width="2.7" height="34.0" fill="#0000ff"/><rect x="83.59" y="458.3" width="2.7" height="29.7" fill="#0000ff"/><rect x="87.11" y="456.6" width="2.7" height="31.4" fill="#ff0000"/><rect x="90.62" y="457.5" width="2.7" height="30.5" fill="#0000ff"/><rect x="94.14" y="449.6" width="2.7" height="38.4" fill="#ff0000"/><rect x="97.65" y="454.9" width="2.7" height="33.1" fill="#0000ff"/><rect x="101.16" y="448.9" width="2.7" height="39.1" fill="#ff0000"/><rect x="104.68" y="455.8" width="2.7" height="32.2" fill="#0000ff"/><rect x="108.19" y="455.8" width="2.7" height="32.2" fill="#0000ff"/><rect x="111.71" y="449.6" width="2.7" height="38.4" fill="#ff0000"/><rect x="115.22" y="450.5" width="2.7" height="37.5" fill="#0000ff"/><rect x="118.74" y="448" width="2.7" height="40.0" fill="#ff0000"/><rect x="122.25" y="426.1" width="2.7" height="61.9" fill="#ff0000"/><rect x="125.77" y="441.9" width="2.7" height="46.1" fill="#0000ff"/><rect x="129.28" y="451.4" width="2.7" height="36.6" fill="#0000ff"/><rect x="132.80" y="450.5" width="2.7" height="37.5" fill="#ff0000"/><rect x="136.31" y="452.3" width="2.7" height="35.7" fill="#0000ff"/><rect x="139.83" y="446.2" width="2.7" height="41.8" fill="#ff0000"/><rect x="143.34" y="449.6" width="2.7" height="38.4" fill="#0000ff"/><rect x="146.86" y="444.5" width="2.7" height="43.5" fill="#ff0000"/><rect x="150.38" y="439.2" width="2.7" height="48.8" fill="#ff0000"/><rect x="153.89" y="438.3" width="2.7" height="49.7" fill="#ff0000"/><rect x="157.41" y="441" width="2.7" height="47.0" fill="#0000ff"/><rect x="160.92" y="431.3" width="2.7" height="56.7" fill="#ff0000"/><rect x="164.44" y="448" width="2.7" height="40.0" fill="#0000ff"/><rect x="167.95" y="458.3" width="2.7" height="29.7" fill="#0000ff"/><rect x="171.47" y="410.5" width="2.7" height="77.5" fill="#ff0000"/><rect x="174.98" y="431.3" width="2.7" height="56.7" fill="#0000ff"/><rect x="178.50" y="443.6" width="2.7" height="44.4" fill="#0000ff"/><rect x="182.01" y="446.2" width="2.7" height="41.8" fill="#0000ff"/><rect x="185.53" y="443.6" width="2.7" height="44.4" fill="#ff0000"/><rect x="189.04" y="446.1" width="2.7" height="41.9" fill="#0000ff"/><rect x="192.56" y="444.2" width="2.7" height="43.8" fill="#ff0000"/><rect x="196.07" y="440" width="2.7" height="48.0" fill="#ff0000"/><rect x="199.59" y="448" width="2.7" height="40.0" fill="#0000ff"/><rect x="203.10" y="448.9" width="2.7" height="39.1" fill="#0000ff"/><rect x="206.62" y="443.6" width="2.7" height="44.4" fill="#ff0000"/><rect x="210.13" y="447.1" width="2.7" height="40.9" fill="#0000ff"/><rect x="213.65" y="443.6" width="2.7" height="44.4" fill="#ff0000"/><rect x="217.16" y="442.7" width="2.7" height="45.3" fill="#ff0000"/><rect x="220.68" y="365.9" width="2.7" height="122.1" fill="#ff0000"/><rect x="224.19" y="438.3" width="2.7" height="49.7" fill="#0000ff"/><rect x="227.71" y="438.3" width="2.7" height="49.7" fill="#ff0000"/><rect x="231.22" y="433.1" width="2.7" height="54.9" fill="#ff0000"/><rect x="234.74" y="461" width="2.7" height="27.0" fill="#0000ff"/><rect x="238.25" y="444.5" width="2.7" height="43.5" fill="#ff0000"/><rect x="241.77" y="448" width="2.7" height="40.0" fill="#0000ff"/><rect x="245.28" y="445.2" width="2.7" height="42.8" fill="#ff0000"/><rect x="248.80" y="443.6" width="2.7" height="44.4" fill="#ff0000"/><rect x="252.31" y="431.3" width="2.7" height="56.7" fill="#ff0000"/><rect x="255.83" y="433.8" width="2.7" height="54.2" fill="#0000ff"/><rect x="259.34" y="423.2" width="2.7" height="64.8" fill="#ff0000"/><rect x="262.86" y="432.2" width="2.7" height="55.8" fill="#0000ff"/><rect x="266.37" y="428.8" width="2.7" height="59.2" fill="#ff0000"/><rect x="269.88" y="433.1" width="2.7" height="54.9" fill="#0000ff"/><rect x="273.40" y="432.2" width="2.7" height="55.8" fill="#ff0000"/><rect x="276.92" y="431.3" width="2.7" height="56.7" fill="#ff0000"/><rect x="280.43" y="433.8" width="2.7" height="54.2" fill="#0000ff"/><rect x="283.95" y="432.2" width="2.7" height="55.8" fill="#ff0000"/><rect x="287.46" y="433.8" width="2.7" height="54.2" fill="#0000ff"/><rect x="290.98" y="430.3" width="2.7" height="57.7" fill="#ff0000"/><rect x="294.49" y="428.8" width="2.7" height="59.2" fill="#ff0000"/><rect x="298.00" y="437.3" width="2.7" height="50.7" fill="#0000ff"/><rect x="301.52" y="424.6" width="2.7" height="63.4" fill="#ff0000"/><rect x="305.03" y="432.2" width="2.7" height="55.8" fill="#0000ff"/><rect x="308.55" y="390.3" width="2.7" height="97.7" fill="#ff0000"/><rect x="312.06" y="393.2" width="2.7" height="94.8" fill="#0000ff"/><rect x="315.58" y="409.5" width="2.7" height="78.5" fill="#0000ff"/><rect x="319.10" y="426.1" width="2.7" height="61.9" fill="#0000ff"/><rect x="322.61" y="424.6" width="2.7" height="63.4" fill="#ff0000"/><rect x="326.12" y="428" width="2.7" height="60.0" fill="#0000ff"/><rect x="329.64" y="430.3" width="2.7" height="57.7" fill="#0000ff"/><rect x="333.16" y="432.2" width="2.7" height="55.8" fill="#0000ff"/><rect x="336.67" y="416.6" width="2.7" height="71.4" fill="#ff0000"/><rect x="340.19" y="420" width="2.7" height="68.0" fill="#0000ff"/><rect x="343.70" y="406.8" width="2.7" height="81.2" fill="#ff0000"/><rect x="347.22" y="401" width="2.7" height="87.0" fill="#ff0000"/><rect x="350.73" y="429.7" width="2.7" height="58.3" fill="#0000ff"/><rect x="354.25" y="421.9" width="2.7" height="66.1" fill="#ff0000"/><rect x="357.76" y="428" width="2.7" height="60.0" fill="#0000ff"/><rect x="361.28" y="433.1" width="2.7" height="54.9" fill="#0000ff"/><rect x="364.79" y="429.7" width="2.7" height="58.3" fill="#ff0000"/><rect x="368.31" y="427.2" width="2.7" height="60.8" fill="#ff0000"/><rect x="371.82" y="415.6" width="2.7" height="72.4" fill="#ff0000"/><rect x="375.34" y="433.1" width="2.7" height="54.9" fill="#0000ff"/><rect x="378.85" y="428.8" width="2.7" height="59.2" fill="#ff0000"/><rect x="382.37" y="424.6" width="2.7" height="63.4" fill="#ff0000"/><rect x="385.88" y="439.2" width="2.7" height="48.8" fill="#0000ff"/><rect x="389.40" y="440" width="2.7" height="48.0" fill="#0000ff"/><rect x="392.91" y="436.6" width="2.7" height="51.4" fill="#ff0000"/><rect x="396.43" y="418.1" width="2.7" height="69.9" fill="#ff0000"/><rect x="399.94" y="419" width="2.7" height="69.0" fill="#0000ff"/><rect x="403.45" y="431.3" width="2.7" height="56.7" fill="#0000ff"/><rect x="406.97" y="431.3" width="2.7" height="56.7" fill="#ff0000"/><rect x="410.49" y="433.8" width="2.7" height="54.2" fill="#0000ff"/><rect x="414.00" y="434.7" width="2.7" height="53.3" fill="#0000ff"/><rect x="417.51" y="439.2" width="2.7" height="48.8" fill="#0000ff"/><rect x="421.03" y="437.3" width="2.7" height="50.7" fill="#ff0000"/><rect x="424.55" y="439.2" width="2.7" height="48.8" fill="#0000ff"/><rect x="428.06" y="435.6" width="2.7" height="52.4" fill="#ff0000"/><rect x="431.57" y="433.8" width="2.7" height="54.2" fill="#ff0000"/><rect x="435.09" y="360.8" width="2.7" height="127.2" fill="#ff0000"/><rect x="438.61" y="438.1" width="2.7" height="49.9" fill="#0000ff"/><rect x="442.12" y="435" width="2.7" height="53.0" fill="#ff0000"/><rect x="445.63" y="435" width="2.7" height="53.0" fill="#ff0000"/><rect x="449.15" y="435.6" width="2.7" height="52.4" fill="#0000ff"/><rect x="452.67" y="437.3" width="2.7" height="50.7" fill="#0000ff"/><rect x="456.18" y="440" width="2.7" height="48.0" fill="#0000ff"/><rect x="459.69" y="443.6" width="2.7" height="44.4" fill="#0000ff"/><rect x="463.21" y="435" width="2.7" height="53.0" fill="#ff0000"/><rect x="466.73" y="446.1" width="2.7" height="41.9" fill="#0000ff"/><rect x="470.24" y="447.1" width="2.7" height="40.9" fill="#0000ff"/><rect x="473.75" y="448.9" width="2.7" height="39.1" fill="#0000ff"/><rect x="477.27" y="451.1" width="2.7" height="36.9" fill="#0000ff"/><rect x="480.79" y="448.9" width="2.7" height="39.1" fill="#ff0000"/><rect x="484.30" y="452.3" width="2.7" height="35.7" fill="#0000ff"/><rect x="487.81" y="448" width="2.7" height="40.0" fill="#ff0000"/><rect x="491.33" y="450.3" width="2.7" height="37.7" fill="#0000ff"/><rect x="494.85" y="451.1" width="2.7" height="36.9" fill="#0000ff"/><rect x="498.36" y="448.9" width="2.7" height="39.1" fill="#ff0000"/><rect x="501.88" y="445.2" width="2.7" height="42.8" fill="#ff0000"/><rect x="505.39" y="447.1" width="2.7" height="40.9" fill="#0000ff"/><rect x="508.91" y="448.9" width="2.7" height="39.1" fill="#0000ff"/><rect x="512.42" y="451.1" width="2.7" height="36.9" fill="#0000ff"/><rect x="515.93" y="448.9" width="2.7" height="39.1" fill="#ff0000"/><rect x="519.45" y="449.8" width="2.7" height="38.2" fill="#0000ff"/><rect x="522.97" y="448.9" width="2.7" height="39.1" fill="#ff0000"/><rect x="526.48" y="448.9" width="2.7" height="39.1" fill="#ff0000"/><rect x="530.00" y="448.9" width="2.7" height="39.1" fill="#0000ff"/><rect x="533.51" y="442.7" width="2.7" height="45.3" fill="#ff0000"/><rect x="537.03" y="441.9" width="2.7" height="46.1" fill="#ff0000"/><rect x="540.54" y="446.1" width="2.7" height="41.9" fill="#0000ff"/><rect x="544.06" y="439.2" width="2.7" height="48.8" fill="#ff0000"/><rect x="547.57" y="447.1" width="2.7" height="40.9" fill="#0000ff"/><rect x="551.09" y="441.9" width="2.7" height="46.1" fill="#ff0000"/><rect x="554.60" y="448.9" width="2.7" height="39.1" fill="#0000ff"/><rect x="558.12" y="442.7" width="2.7" height="45.3" fill="#ff0000"/><rect x="561.63" y="443.6" width="2.7" height="44.4" fill="#0000ff"/><rect x="565.14" y="443.6" width="2.7" height="44.4" fill="#ff0000"/><rect x="568.66" y="443.6" width="2.7" height="44.4" fill="#ff0000"/><rect x="572.17" y="449.8" width="2.7" height="38.2" fill="#0000ff"/><rect x="575.69" y="452.3" width="2.7" height="35.7" fill="#0000ff"/><rect x="579.21" y="449.8" width="2.7" height="38.2" fill="#ff0000"/><rect x="582.72" y="448.9" width="2.7" height="39.1" fill="#ff0000"/><rect x="586.24" y="451.1" width="2.7" height="36.9" fill="#0000ff"/><rect x="589.75" y="452.3" width="2.7" height="35.7" fill="#0000ff"/><rect x="593.26" y="454.9" width="2.7" height="33.1" fill="#0000ff"/><rect x="596.78" y="450.5" width="2.7" height="37.5" fill="#ff0000"/><rect x="600.30" y="451.1" width="2.7" height="36.9" fill="#0000ff"/><rect x="603.81" y="425.3" width="2.7" height="62.7" fill="#ff0000"/><rect x="607.33" y="447.1" width="2.7" height="40.9" fill="#0000ff"/><rect x="610.84" y="448" width="2.7" height="40.0" fill="#0000ff"/><rect x="614.36" y="443.6" width="2.7" height="44.4" fill="#ff0000"/><rect x="617.87" y="442.7" width="2.7" height="45.3" fill="#ff0000"/><rect x="621.38" y="451.1" width="2.7" height="36.9" fill="#0000ff"/><rect x="624.90" y="447.1" width="2.7" height="40.9" fill="#ff0000"/><rect x="628.41" y="435.6" width="2.7" height="52.4" fill="#ff0000"/><rect x="631.93" y="439.2" width="2.7" height="48.8" fill="#0000ff"/><rect x="635.45" y="446.1" width="2.7" height="41.9" fill="#0000ff"/><rect x="638.96" y="450.5" width="2.7" height="37.5" fill="#0000ff"/><rect x="642.48" y="448" width="2.7" height="40.0" fill="#ff0000"/><rect x="645.99" y="448.9" width="2.7" height="39.1" fill="#0000ff"/><rect x="649.50" y="444.5" width="2.7" height="43.5" fill="#ff0000"/><rect x="653.02" y="443.6" width="2.7" height="44.4" fill="#ff0000"/><rect x="656.53" y="394.7" width="2.7" height="93.3" fill="#ff0000"/><rect x="660.05" y="444.5" width="2.7" height="43.5" fill="#0000ff"/><rect x="663.57" y="448" width="2.7" height="40.0" fill="#0000ff"/><rect x="667.08" y="449.8" width="2.7" height="38.2" fill="#0000ff"/><rect x="670.60" y="451.1" width="2.7" height="36.9" fill="#0000ff"/><rect x="674.11" y="352.1" width="2.7" height="135.9" fill="#ff0000"/><rect x="677.62" y="447.1" width="2.7" height="40.9" fill="#0000ff"/><rect x="681.14" y="447.1" width="2.7" height="40.9" fill="#ff0000"/><rect x="684.65" y="440" width="2.7" height="48.0" fill="#ff0000"/><rect x="688.17" y="449.8" width="2.7" height="38.2" fill="#0000ff"/><rect x="691.69" y="454.9" width="2.7" height="33.1" fill="#0000ff"/><rect x="695.20" y="447.1" width="2.7" height="40.9" fill="#ff0000"/><rect x="698.72" y="448" width="2.7" height="40.0" fill="#0000ff"/><rect x="702.23" y="447.1" width="2.7" height="40.9" fill="#ff0000"/><rect x="705.75" y="454" width="2.7" height="34.0" fill="#0000ff"/><rect x="709.26" y="454" width="2.7" height="34.0" fill="#0000ff"/><rect x="712.77" y="451.1" width="2.7" height="36.9" fill="#ff0000"/><rect x="716.29" y="448.9" width="2.7" height="39.1" fill="#ff0000"/><rect x="719.81" y="450.5" width="2.7" height="37.5" fill="#0000ff"/><rect x="723.32" y="451.1" width="2.7" height="36.9" fill="#0000ff"/><rect x="726.84" y="447.1" width="2.7" height="40.9" fill="#ff0000"/><rect x="730.35" y="441.9" width="2.7" height="46.1" fill="#ff0000"/><rect x="733.87" y="451.1" width="2.7" height="36.9" fill="#0000ff"/><rect x="737.38" y="455.8" width="2.7" height="32.2" fill="#0000ff"/><rect x="740.89" y="454" width="2.7" height="34.0" fill="#ff0000"/><rect x="744.41" y="449.8" width="2.7" height="38.2" fill="#ff0000"/><rect x="747.93" y="448" width="2.7" height="40.0" fill="#ff0000"/><rect x="751.44" y="450.5" width="2.7" height="37.5" fill="#0000ff"/><rect x="754.96" y="453.2" width="2.7" height="34.8" fill="#0000ff"/><rect x="758.47" y="452.3" width="2.7" height="35.7" fill="#ff0000"/><rect x="761.99" y="454" width="2.7" height="34.0" fill="#0000ff"/><rect x="765.50" y="450.5" width="2.7" height="37.5" fill="#ff0000"/><rect x="769.01" y="448.9" width="2.7" height="39.1" fill="#ff0000"/><rect x="772.53" y="449.8" width="2.7" height="38.2" fill="#0000ff"/><rect x="776.05" y="451.1" width="2.7" height="36.9" fill="#0000ff"/><rect x="779.56" y="451.1" width="2.7" height="36.9" fill="#0000ff"/><rect x="783.08" y="452.3" width="2.7" height="35.7" fill="#0000ff"/><rect x="786.59" y="452.3" width="2.7" height="35.7" fill="#ff0000"/><rect x="790.11" y="452.3" width="2.7" height="35.7" fill="#0000ff"/><rect x="793.62" y="453.2" width="2.7" height="34.8" fill="#0000ff"/><rect x="797.13" y="453.2" width="2.7" height="34.8" fill="#0000ff"/><rect x="800.65" y="452.3" width="2.7" height="35.7" fill="#ff0000"/><rect x="804.17" y="453.2" width="2.7" height="34.8" fill="#0000ff"/><rect x="807.68" y="449.8" width="2.7" height="38.2" fill="#ff0000"/><rect x="811.20" y="450.5" width="2.7" height="37.5" fill="#0000ff"/><rect x="814.71" y="452.3" width="2.7" height="35.7" fill="#0000ff"/><rect x="818.23" y="454.9" width="2.7" height="33.1" fill="#0000ff"/><rect x="821.74" y="454" width="2.7" height="34.0" fill="#ff0000"/><rect x="825.25" y="456.7" width="2.7" height="31.3" fill="#0000ff"/><rect x="828.77" y="449.8" width="2.7" height="38.2" fill="#ff0000"/><rect x="832.29" y="451.1" width="2.7" height="36.9" fill="#0000ff"/><rect x="835.80" y="444.5" width="2.7" height="43.5" fill="#ff0000"/><rect x="839.32" y="450.5" width="2.7" height="37.5" fill="#0000ff"/><rect x="842.83" y="453.2" width="2.7" height="34.8" fill="#0000ff"/><rect x="846.35" y="455.8" width="2.7" height="32.2" fill="#0000ff"/><rect x="849.86" y="451.1" width="2.7" height="36.9" fill="#ff0000"/><rect x="853.38" y="452.3" width="2.7" height="35.7" fill="#0000ff"/><rect x="856.89" y="452.3" width="2.7" height="35.7" fill="#0000ff"/><rect x="860.40" y="448" width="2.7" height="40.0" fill="#ff0000"/><rect x="863.92" y="445.2" width="2.7" height="42.8" fill="#ff0000"/><rect x="867.44" y="448" width="2.7" height="40.0" fill="#0000ff"/><rect x="870.95" y="443.6" width="2.7" height="44.4" fill="#ff0000"/><rect x="874.47" y="450.5" width="2.7" height="37.5" fill="#0000ff"/><rect x="877.98" y="367.8" width="2.7" height="120.2" fill="#ff0000"/><rect x="881.50" y="439.2" width="2.7" height="48.8" fill="#0000ff"/><rect x="885.01" y="448.9" width="2.7" height="39.1" fill="#0000ff"/><rect x="888.52" y="450.5" width="2.7" height="37.5" fill="#0000ff"/><rect x="892.04" y="452.3" width="2.7" height="35.7" fill="#0000ff"/><rect x="895.56" y="453.2" width="2.7" height="34.8" fill="#0000ff"/><rect x="899.07" y="448" width="2.7" height="40.0" fill="#ff0000"/><rect x="902.59" y="443.6" width="2.7" height="44.4" fill="#ff0000"/><rect x="906.10" y="444.5" width="2.7" height="43.5" fill="#0000ff"/><rect x="909.62" y="437.3" width="2.7" height="50.7" fill="#ff0000"/><rect x="913.13" y="447.1" width="2.7" height="40.9" fill="#0000ff"/><rect x="916.64" y="447.1" width="2.7" height="40.9" fill="#ff0000"/><rect x="920.16" y="451.4" width="2.7" height="36.6" fill="#0000ff"/><rect x="923.68" y="451.4" width="2.7" height="36.6" fill="#ff0000"/><rect x="927.19" y="452.1" width="2.7" height="35.9" fill="#0000ff"/><rect x="930.71" y="457.3" width="2.7" height="30.7" fill="#0000ff"/><rect x="934.22" y="457.3" width="2.7" height="30.7" fill="#0000ff"/><rect x="937.74" y="453" width="2.7" height="35.0" fill="#ff0000"/><rect x="941.25" y="453" width="2.7" height="35.0" fill="#0000ff"/><rect x="944.76" y="451.4" width="2.7" height="36.6" fill="#ff0000"/><rect x="948.28" y="446.1" width="2.7" height="41.9" fill="#ff0000"/><path d="M57,18.5H62M962,18.5H967 M57,46.5H62M962,46.5H967 M57,74.5H62M962,74.5H967 M57,101.5H62M962,101.5H967 M57,129.5H62M962,129.5H967 M57,156.5H62M962,156.5H967 M57,184.5H62M962,184.5H967 M57,211.5H62M962,211.5H967 M57,238.5H62M962,238.5H967 M57,266.5H62M962,266.5H967 M57,294.5H62M962,294.5H967 M57,321.5H62M962,321.5H967 M60,3.5H62M962,3.5H964 M60,8.5H62M962,8.5H964 M60,14.5H62M962,14.5H964 M60,25.5H62M962,25.5H964 M60,30.5H62M962,30.5H964 M60,36.5H62M962,36.5H964 M60,41.5H62M962,41.5H964 M60,52.5H62M962,52.5H964 M60,58.5H62M962,58.5H964 M60,63.5H62M962,63.5H964 M60,69.5H62M962,69.5H964 M60,80.5H62M962,80.5H964 M60,85.5H62M962,85.5H964 M60,91.5H62M962,91.5H964 M60,96.5H62M962,96.5H964 M60,107.5H62M962,107.5H964 M60,113.5H62M962,113.5H964 M60,118.5H62M962,118.5H964 M60,124.5H62M962,124.5H964 M60,135.5H62M962,135.5H964 M60,140.5H62M962,140.5H964 M60,146.5H62M962,146.5H964 M60,151.5H62M962,151.5H964 M60,162.5H62M962,162.5H964 M60,168.5H62M962,168.5H964 M60,173.5H62M962,173.5H964 M60,179.5H62M962,179.5H964 M60,190.5H62M962,190.5H964 M60,195.5H62M962,195.5H964 M60,201.5H62M962,201.5H964 M60,206.5H62M962,206.5H964 M60,217.5H62M962,217.5H964 M60,223.5H62M962,223.5H964 M60,228.5H62M962,228.5H964 M60,234.5H62M962,234.5H964 M60,245.5H62M962,245.5H964 M60,250.5H62M962,250.5H964 M60,256.5H62M962,256.5H964 M60,261.5H62M962,261.5H964 M60,272.5H62M962,272.5H964 M60,278.5H62M962,278.5H964 M60,283.5H62M962,283.5H964 M60,289.5H62M962,289.5H964 M60,300.5H62M962,300.5H964 M60,305.5H62M962,305.5H964 M60,311.5H62M962,311.5H964 M60,317.5H62M962,317.5H964 M60,328.5H62M962,328.5H964 M57,337.5H62M962,337.5H967 M57,358.5H62M962,358.5H967 M57,380.5H62M962,380.5H967 M57,401.5H62M962,401.5H967 M57,423.5H62M962,423.5H967 M57,444.5H62M962,444.5H967 M57,465.5H62M962,465.5H967 M60,333.5H62M962,333.5H964 M60,341.5H62M962,341.5H964 M60,345.5H62M962,345.5H964 M60,350.5H62M962,350.5H964 M60,354.5H62M962,354.5H964 M60,363.5H62M962,363.5H964 M60,367.5H62M962,367.5H964 M60,371.5H62M962,371.5H964 M60,375.5H62M962,375.5H964 M60,384.5H62M962,384.5H964 M60,388.5H62M962,388.5H964 M60,393.5H62M962,393.5H964 M60,397.5H62M962,397.5H964 M60,405.5H62M962,405.5H964 M60,410.5H62M962,410.5H964 M60,414.5H62M962,414.5H964 M60,418.5H62M962,418.5H964 M60,427.5H62M962,427.5H964 M60,431.5H62M962,431.5H964 M60,435.5H62M962,435.5H964 M60,440.5H62M962,440.5H964 M60,448.5H62M962,448.5H964 M60,453.5H62M962,453.5H964 M60,457.5H62M962,457.5H964 M60,461.5H62M962,461.5H964 M60,470.5H62M962,470.5H964 M60,474.5H62M962,474.5H964 M60,478.5H62M962,478.5H964 M60,483.5H62M962,483.5H964" stroke="#222" stroke-width="1"/><g font-family="'Liberation Sans','Noto Sans CJK JP',sans-serif" font-size="10.5" fill="#1c1c1c" stroke="#1c1c1c" stroke-width="0.15"><text x="54.6" y="22.3" text-anchor="end" textLength="46.4" lengthAdjust="spacingAndGlyphs">16000.00</text><text x="968.6" y="22.3" textLength="46.4" lengthAdjust="spacingAndGlyphs">16000.00</text><text x="54.6" y="50.3" text-anchor="end" textLength="46.4" lengthAdjust="spacingAndGlyphs">15500.00</text><text x="968.6" y="50.3" textLength="46.4" lengthAdjust="spacingAndGlyphs">15500.00</text><text x="54.6" y="78.3" text-anchor="end" textLength="46.4" lengthAdjust="spacingAndGlyphs">15000.00</text><text x="968.6" y="78.3" textLength="46.4" lengthAdjust="spacingAndGlyphs">15000.00</text><text x="54.6" y="105.3" text-anchor="end" textLength="46.4" lengthAdjust="spacingAndGlyphs">14500.00</text><text x="968.6" y="105.3" textLength="46.4" lengthAdjust="spacingAndGlyphs">14500.00</text><text x="54.6" y="133.3" text-anchor="end" textLength="46.4" lengthAdjust="spacingAndGlyphs">14000.00</text><text x="968.6" y="133.3" textLength="46.4" lengthAdjust="spacingAndGlyphs">14000.00</text><text x="54.6" y="160.3" text-anchor="end" textLength="46.4" lengthAdjust="spacingAndGlyphs">13500.00</text><text x="968.6" y="160.3" textLength="46.4" lengthAdjust="spacingAndGlyphs">13500.00</text><text x="54.6" y="188.3" text-anchor="end" textLength="46.4" lengthAdjust="spacingAndGlyphs">13000.00</text><text x="968.6" y="188.3" textLength="46.4" lengthAdjust="spacingAndGlyphs">13000.00</text><text x="54.6" y="215.3" text-anchor="end" textLength="46.4" lengthAdjust="spacingAndGlyphs">12500.00</text><text x="968.6" y="215.3" textLength="46.4" lengthAdjust="spacingAndGlyphs">12500.00</text><text x="54.6" y="242.3" text-anchor="end" textLength="46.4" lengthAdjust="spacingAndGlyphs">12000.00</text><text x="968.6" y="242.3" textLength="46.4" lengthAdjust="spacingAndGlyphs">12000.00</text><text x="54.6" y="270.3" text-anchor="end" textLength="46.4" lengthAdjust="spacingAndGlyphs">11500.00</text><text x="968.6" y="270.3" textLength="46.4" lengthAdjust="spacingAndGlyphs">11500.00</text><text x="54.6" y="298.3" text-anchor="end" textLength="46.4" lengthAdjust="spacingAndGlyphs">11000.00</text><text x="968.6" y="298.3" textLength="46.4" lengthAdjust="spacingAndGlyphs">11000.00</text><text x="54.6" y="325.3" text-anchor="end" textLength="46.4" lengthAdjust="spacingAndGlyphs">10500.00</text><text x="968.6" y="325.3" textLength="46.4" lengthAdjust="spacingAndGlyphs">10500.00</text><text x="54.6" y="341.3" text-anchor="end" textLength="77.4" lengthAdjust="spacingAndGlyphs">3500000000.00</text><text x="968.6" y="341.3" textLength="77.4" lengthAdjust="spacingAndGlyphs">3500000000.00</text><text x="54.6" y="362.3" text-anchor="end" textLength="77.4" lengthAdjust="spacingAndGlyphs">3000000000.00</text><text x="968.6" y="362.3" textLength="77.4" lengthAdjust="spacingAndGlyphs">3000000000.00</text><text x="54.6" y="384.3" text-anchor="end" textLength="77.4" lengthAdjust="spacingAndGlyphs">2500000000.00</text><text x="968.6" y="384.3" textLength="77.4" lengthAdjust="spacingAndGlyphs">2500000000.00</text><text x="54.6" y="405.3" text-anchor="end" textLength="77.4" lengthAdjust="spacingAndGlyphs">2000000000.00</text><text x="968.6" y="405.3" textLength="77.4" lengthAdjust="spacingAndGlyphs">2000000000.00</text><text x="54.6" y="427.3" text-anchor="end" textLength="77.4" lengthAdjust="spacingAndGlyphs">1500000000.00</text><text x="968.6" y="427.3" textLength="77.4" lengthAdjust="spacingAndGlyphs">1500000000.00</text><text x="54.6" y="448.3" text-anchor="end" textLength="77.4" lengthAdjust="spacingAndGlyphs">1000000000.00</text><text x="968.6" y="448.3" textLength="77.4" lengthAdjust="spacingAndGlyphs">1000000000.00</text><text x="54.6" y="469.3" text-anchor="end" textLength="71.2" lengthAdjust="spacingAndGlyphs">500000000.00</text><text x="968.6" y="469.3" textLength="71.2" lengthAdjust="spacingAndGlyphs">500000000.00</text></g><g font-family="'Liberation Sans','Noto Sans CJK JP',sans-serif" font-size="11" fill="#1c1c1c" stroke="#1c1c1c" stroke-width="0.2"><text x="64.7" y="500.8">2020/10</text><text x="254.3" y="500.8">2021/01</text></g><path d="M251.5,488V505" stroke="#555" stroke-width="1"/><g font-family="'Liberation Sans','Noto Sans CJK JP',sans-serif" font-size="10.5" fill="#333"><text x="64" y="12.8" textLength="54" lengthAdjust="spacingAndGlyphs" style="font-feature-settings:'palt'">ロウソクチャート</text><text x="120" y="12.8" textLength="45.6" lengthAdjust="spacingAndGlyphs">(NASDAQ)</text><text x="166.6" y="12.8" textLength="29.8" lengthAdjust="spacingAndGlyphs">(日足)</text><text x="208.9" y="12.8" textLength="47.3" lengthAdjust="spacingAndGlyphs">MA短期(5)</text><text x="268.9" y="12.8" textLength="53.1" lengthAdjust="spacingAndGlyphs">MA中期(20)</text><text x="335.5" y="12.8" textLength="52.7" lengthAdjust="spacingAndGlyphs">MA長期(60)</text><text x="64.6" y="343.5" textLength="28" lengthAdjust="spacingAndGlyphs">出来高</text></g><g stroke-width="2.8" stroke-linecap="round"><line x1="201" y1="9.8" x2="204.4" y2="9.8" stroke="#ff0000"/><line x1="260.9" y1="9.8" x2="264.3" y2="9.8" stroke="#ff0000"/><line x1="326.7" y1="9.8" x2="330.6" y2="9.8" stroke="#00ff00"/><line x1="392.9" y1="9.8" x2="396.8" y2="9.8" stroke="#000000"/><line x1="97.1" y1="340.5" x2="101.6" y2="340.5" stroke="#ff0000"/></g><text x="752.6" y="49.3" font-family="'Liberation Sans','Noto Sans CJK JP',sans-serif" font-size="10.5" fill="#ff4848" textLength="82" lengthAdjust="spacingAndGlyphs">最高値:15,403.43</text><path d="M838.8,43.5H846L850,48" stroke="#ff4848" stroke-width="1" fill="none"/><path d="M851,49L847.3,48.2L849.8,45.8Z" fill="#ff4848"/><text x="116.1" y="316" font-family="'Liberation Sans','Noto Sans CJK JP',sans-serif" font-size="10.5" fill="#4848ff" textLength="82" lengthAdjust="spacingAndGlyphs">最安値:10,822.57</text><path d="M113.2,311.7H106L102.5,307.5" stroke="#4848ff" stroke-width="1" fill="none"/><path d="M101.5,306.3L105,307L102.5,309.5Z" fill="#4848ff"/><rect x="962" y="72" width="59" height="13.5" fill="#808080"/><text x="967" y="82.8" font-family="'Liberation Sans','Noto Sans CJK JP',sans-serif" font-size="11" fill="#ffffff" textLength="49" lengthAdjust="spacingAndGlyphs">14,897.34</text><rect x="0" y="330" width="1021" height="1" fill="#505050"/><rect x="0" y="0" width="1024" height="1" fill="#d6d6d6"/><rect x="0" y="1" width="1022" height="1" fill="#444444"/><rect x="0" y="0" width="1" height="507" fill="#6e4c14"/><rect x="1" y="1" width="1" height="506" fill="#444444"/><rect x="1021" y="1" width="1" height="506" fill="#606060"/><rect x="1022" y="0" width="1" height="507" fill="#cccccc"/><rect x="1023" y="0" width="1" height="507" fill="#e6e6e6"/><rect x="2" y="505" width="1019" height="1" fill="#9a9a9a"/><rect x="2" y="506" width="1019" height="1" fill="#d8d8d8"/><rect x="15" y="506" width="2" height="1" fill="#9a9a9a"/><rect x="892" y="506" width="14" height="1" fill="#e4e4e4"/><rect x="891" y="506" width="1" height="1" fill="#7a7a7a"/><rect x="906" y="506" width="1" height="1" fill="#7a7a7a"/><rect x="992.5" y="4.5" width="7.5" height="7.5" fill="#fbfbf0" stroke="#b8b8a8" stroke-width="1"/><path d="M993,12.5H1000.5V5" stroke="#909080" stroke-width="1" fill="none"/><rect x="1001.5" y="4.5" width="7.5" height="7.5" fill="#fbfbf0" stroke="#b8b8a8" stroke-width="1"/><path d="M1002,12.5H1009.5V5" stroke="#909080" stroke-width="1" fill="none"/><rect x="1011.5" y="4.5" width="7.5" height="7.5" fill="#fbfbf0" stroke="#b8b8a8" stroke-width="1"/><path d="M1012,12.5H1019.5V5" stroke="#909080" stroke-width="1" fill="none"/><path d="M995,6V11H998" stroke="#111" stroke-width="1.6" fill="none"/><path d="M1005,6V11" stroke="#111" stroke-width="1.4" fill="none"/><path d="M1013.2,6.2L1017.8,10.8M1017.8,6.2L1013.2,10.8" stroke="#111" stroke-width="1.6" fill="none"/><rect x="992.5" y="335.5" width="7.5" height="7.5" fill="#fbfbf0" stroke="#b8b8a8" stroke-width="1"/><path d="M993,343.5H1000.5V336" stroke="#909080" stroke-width="1" fill="none"/><rect x="1001.5" y="335.5" width="7.5" height="7.5" fill="#fbfbf0" stroke="#b8b8a8" stroke-width="1"/><path d="M1002,343.5H1009.5V336" stroke="#909080" stroke-width="1" fill="none"/><rect x="1011.5" y="335.5" width="7.5" height="7.5" fill="#fbfbf0" stroke="#b8b8a8" stroke-width="1"/><path d="M1012,343.5H1019.5V336" stroke="#909080" stroke-width="1" fill="none"/><path d="M995,337V342H998" stroke="#111" stroke-width="1.6" fill="none"/><path d="M1005,337V342" stroke="#111" stroke-width="1.4" fill="none"/><path d="M1013.2,337.2L1017.8,341.8M1017.8,337.2L1013.2,341.8" stroke="#111" stroke-width="1.6" fill="none"/></svg>
<svg width="1024" height="507" viewBox="0 0 1024 507" style="position:absolute;left:0;top:0"><defs><filter id="sh" x="-30%" y="-30%" width="160%" height="160%"><feGaussianBlur stdDeviation="4"/></filter></defs><rect x="82" y="35" width="155" height="167" fill="#000" opacity="0.28" filter="url(#sh)"/><rect x="83" y="35" width="153" height="165" fill="#ffffff"/><text x="85.6" y="49.6" font-family="'Liberation Sans','Noto Sans CJK JP',sans-serif" font-size="10.5" fill="#b4b4b4" textLength="61.5" lengthAdjust="spacingAndGlyphs">数値情報画面</text><rect x="218.3" y="37.5" width="16.5" height="16.2" fill="#e2e2e2"/><path d="M224.5,43.3L229,47.8M229,43.3L224.5,47.8" stroke="#f6f6f6" stroke-width="0.9"/><rect x="83" y="58" width="74" height="141" fill="#c0c0ff"/><rect x="157" y="58" width="78" height="141" fill="#ffc0c0"/><rect x="235" y="58" width="1" height="142" fill="#e6e6ff"/><rect x="83" y="200" width="153" height="1" fill="#e6e6ff"/><path d="M83,58.5H235 M83,74.5H235 M83,89.5H235 M83,105.5H235 M83,121.5H235 M83,136.5H235 M83,152.5H235 M83,168.5H235 M83,183.5H235 M83,199.5H235 M83.5,58V200M157.5,58V200M234.5,58V200" stroke="#2c2c2c" stroke-width="1" fill="none"/><g font-family="'Liberation Sans','Noto Sans CJK JP',sans-serif" font-size="11" fill="#1a1a1a"><text x="85.2" y="70.6">日付</text><text x="233" y="70.6" text-anchor="end" textLength="58.2" lengthAdjust="spacingAndGlyphs">2021/10/15</text><text x="85.2" y="86.6">始値</text><text x="233" y="86.6" text-anchor="end">14,891.24</text><text x="85.2" y="101.6">高値</text><text x="233" y="101.6" text-anchor="end">14,904.97</text><text x="85.2" y="117.6">安値</text><text x="233" y="117.6" text-anchor="end">14,847.96</text><text x="85.2" y="133.6">終値</text><text x="233" y="133.6" text-anchor="end">14,897.34</text><text x="85.2" y="148.6">MA短期(5)</text><text x="233" y="148.6" text-anchor="end">14,648.90</text><text x="85.2" y="164.6">MA中期(20)</text><text x="233" y="164.6" text-anchor="end">14,658.53</text><text x="85.2" y="180.6">MA長期(60)</text><text x="233" y="180.6" text-anchor="end">14,852.09</text><text x="85.2" y="195.6">出来高</text><text x="233" y="195.6" text-anchor="end">924,576,778</text></g></svg>
</div></body></html>
